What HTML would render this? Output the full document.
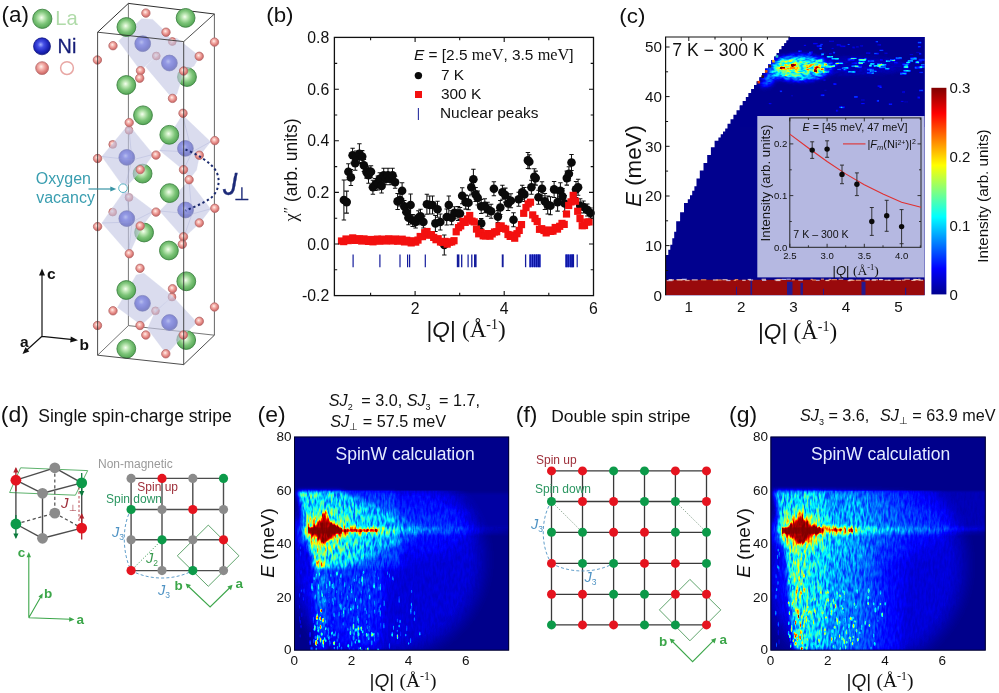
<!DOCTYPE html>
<html lang="en"><head><meta charset="utf-8"><title>Figure</title>
<style>
html,body{margin:0;padding:0;background:#fff;}
body{width:999px;height:693px;overflow:hidden;}
svg{display:block;}
.ss{font-family:"Liberation Sans",Arial,sans-serif;}
.sf{font-family:"Liberation Serif","Times New Roman",serif;}
</style></head><body>
<svg width="999" height="693" viewBox="0 0 999 693">
<rect width="999" height="693" fill="#fff"/>
<g id="pa">
<defs>
<radialGradient id="gLa" cx="0.47" cy="0.46" r="0.58" fx="0.46" fy="0.44"><stop offset="0" stop-color="#f6fff0"/><stop offset="0.25" stop-color="#bfe8b6"/><stop offset="0.58" stop-color="#7cc478"/><stop offset="0.88" stop-color="#5aaa5a"/><stop offset="1" stop-color="#4a9a4c"/></radialGradient>
<radialGradient id="gNi" cx="0.45" cy="0.42" r="0.6" fx="0.42" fy="0.4"><stop offset="0" stop-color="#a3b0ff"/><stop offset="0.3" stop-color="#4650e6"/><stop offset="0.7" stop-color="#1e26bc"/><stop offset="1" stop-color="#0f1588"/></radialGradient>
<radialGradient id="gO" cx="0.45" cy="0.42" r="0.6" fx="0.42" fy="0.38"><stop offset="0" stop-color="#fff2ec"/><stop offset="0.35" stop-color="#f5b4ae"/><stop offset="0.72" stop-color="#df807c"/><stop offset="1" stop-color="#c46060"/></radialGradient>
</defs>
<text class="ss" transform="translate(1.6,22) scale(1.02,1)" font-size="22" fill="#111">(a)</text>
<circle cx="42.3" cy="18.8" r="9.6" fill="url(#gLa)" stroke="#3f8544" stroke-width="0.9"/><text class="ss" x="55.2" y="24.9" font-size="20.2" fill="#b0dba9">La</text>

<circle cx="42" cy="46.3" r="8.5" fill="url(#gNi)" stroke="#10167e" stroke-width="0.7"/><text class="ss" x="57.6" y="52.5" font-size="19.8" fill="#161e78" stroke="#161e78" stroke-width="0.3">Ni</text>

<circle cx="42.1" cy="68.1" r="6.4" fill="url(#gO)" stroke="#b46a6a" stroke-width="0.8"/><circle cx="67" cy="68.1" r="6.4" fill="#fff" stroke="#e8a7a4" stroke-width="1.5"/>
<path d="M128.4 3.4 L128.4 325.6" fill="none" stroke="#666" stroke-width="0.9"/>
<path d="M97.6 355.2 L128.4 325.6 L214.4 335.2" fill="none" stroke="#666" stroke-width="0.9"/>
<path d="M214.4 14.0 L214.4 335.2" fill="none" stroke="#555" stroke-width="0.9"/>
<path d="M97.6 32.2 L128.4 3.4 L214.4 14.0" fill="none" stroke="#2e2e2e" stroke-width="1"/>
<circle cx="187" cy="77" r="9.4" fill="url(#gLa)" stroke="#3f8544" stroke-width="0.9"/><circle cx="142.6" cy="173.6" r="9.4" fill="url(#gLa)" stroke="#3f8544" stroke-width="0.9"/><circle cx="144.1" cy="232.5" r="9.4" fill="url(#gLa)" stroke="#3f8544" stroke-width="0.9"/><circle cx="186.2" cy="340" r="9.4" fill="url(#gLa)" stroke="#3f8544" stroke-width="0.9"/>
<circle cx="142.7" cy="43.7" r="7.8999999999999995" fill="url(#gNi)" stroke="#10167e" stroke-width="0.7"/><circle cx="169.4" cy="63" r="7.8999999999999995" fill="url(#gNi)" stroke="#10167e" stroke-width="0.7"/><circle cx="126.8" cy="157.4" r="7.8999999999999995" fill="url(#gNi)" stroke="#10167e" stroke-width="0.7"/><circle cx="185.4" cy="148.4" r="7.8999999999999995" fill="url(#gNi)" stroke="#10167e" stroke-width="0.7"/><circle cx="126.8" cy="218.6" r="7.8999999999999995" fill="url(#gNi)" stroke="#10167e" stroke-width="0.7"/><circle cx="185.6" cy="210" r="7.8999999999999995" fill="url(#gNi)" stroke="#10167e" stroke-width="0.7"/><circle cx="142.5" cy="303.3" r="7.8999999999999995" fill="url(#gNi)" stroke="#10167e" stroke-width="0.7"/><circle cx="169.5" cy="322.5" r="7.8999999999999995" fill="url(#gNi)" stroke="#10167e" stroke-width="0.7"/>
<circle cx="172.3" cy="41.5" r="3.9000000000000004" fill="url(#gO)" stroke="#b46a6a" stroke-width="0.8"/><circle cx="156.3" cy="56" r="3.9000000000000004" fill="url(#gO)" stroke="#b46a6a" stroke-width="0.8"/><circle cx="129" cy="130.3" r="3.9000000000000004" fill="url(#gO)" stroke="#b46a6a" stroke-width="0.8"/><circle cx="112.7" cy="144.4" r="3.9000000000000004" fill="url(#gO)" stroke="#b46a6a" stroke-width="0.8"/><circle cx="129" cy="197.4" r="3.9000000000000004" fill="url(#gO)" stroke="#b46a6a" stroke-width="0.8"/><circle cx="112.7" cy="212.1" r="3.9000000000000004" fill="url(#gO)" stroke="#b46a6a" stroke-width="0.8"/><circle cx="172" cy="297" r="3.9000000000000004" fill="url(#gO)" stroke="#b46a6a" stroke-width="0.8"/><circle cx="155.5" cy="310.8" r="3.9000000000000004" fill="url(#gO)" stroke="#b46a6a" stroke-width="0.8"/>
<path d="M118.6 41 L141.6 18.7 L152.7 19.4 L166.2 32.5 L172.5 42 L156.3 56.3 L140.5 70.6Z" fill="#c3c6e4" fill-opacity="0.62" stroke="#d4d6ec" stroke-width="0.5" stroke-opacity="0.6"/>
<path d="M156.3 56.3 L172.5 42 L176.5 38 L199.5 56.3 L194 65.9 L183.7 71.4 L177 93.7 L172.5 98.4 L145.6 66.7Z" fill="#c3c6e4" fill-opacity="0.62" stroke="#d4d6ec" stroke-width="0.5" stroke-opacity="0.6"/>
<path d="M101.9 156.5 L128.5 124.5 L153.2 154.4 L142 170 L124.6 188.3Z" fill="#c3c6e4" fill-opacity="0.62" stroke="#d4d6ec" stroke-width="0.5" stroke-opacity="0.6"/>
<path d="M101.9 223 L124.6 190.5 L131.1 194 L153.9 211 L142 226.2 L131 250 L128.5 253.5Z" fill="#c3c6e4" fill-opacity="0.62" stroke="#d4d6ec" stroke-width="0.5" stroke-opacity="0.6"/>
<path d="M159.7 150.5 L182.5 115 L210.6 141.8 L199.4 155.9 L196.5 170 L189 179.7 L183.5 170Z" fill="#c3c6e4" fill-opacity="0.62" stroke="#d4d6ec" stroke-width="0.5" stroke-opacity="0.6"/>
<path d="M159.7 211 L189 180.8 L210.6 208.9 L199.8 223 L183.5 238.1Z" fill="#c3c6e4" fill-opacity="0.62" stroke="#d4d6ec" stroke-width="0.5" stroke-opacity="0.6"/>
<path d="M117.5 307.5 L136.3 275 L143.8 273.2 L172.5 296.3 L156.3 311.3 L141.3 325Z" fill="#c3c6e4" fill-opacity="0.62" stroke="#d4d6ec" stroke-width="0.5" stroke-opacity="0.6"/>
<path d="M155.5 310.8 L172.5 296.3 L197 322.5 L183.8 335 L170 350.5 L163.8 350.5 L147.5 328.8Z" fill="#c3c6e4" fill-opacity="0.62" stroke="#d4d6ec" stroke-width="0.5" stroke-opacity="0.6"/>
<path d="M128.5 124.5 L132 160 L124.6 188.3 M101.9 156.5 L132 160 L153.2 154.4 M124.6 190.5 L132 222 L128.5 253.5 M101.9 223 L132 222 L153.9 211 M182.5 115 L192 152 L183.5 170 M159.7 150.5 L192 152 L210.6 141.8 M189 180.8 L192 214 L183.5 238.1 M159.7 211 L192 214 L210.6 208.9" fill="none" stroke="#9aa0d0" stroke-width="0.6" opacity="0.5"/>
<circle cx="126.4" cy="27" r="9.4" fill="url(#gLa)" stroke="#3f8544" stroke-width="0.9"/><circle cx="185.6" cy="17.9" r="9.4" fill="url(#gLa)" stroke="#3f8544" stroke-width="0.9"/><circle cx="126.3" cy="85" r="9.4" fill="url(#gLa)" stroke="#3f8544" stroke-width="0.9"/><circle cx="143" cy="115.3" r="9.4" fill="url(#gLa)" stroke="#3f8544" stroke-width="0.9"/><circle cx="169.3" cy="134.8" r="9.4" fill="url(#gLa)" stroke="#3f8544" stroke-width="0.9"/><circle cx="169.6" cy="193.1" r="9.4" fill="url(#gLa)" stroke="#3f8544" stroke-width="0.9"/><circle cx="168.9" cy="250.5" r="9.4" fill="url(#gLa)" stroke="#3f8544" stroke-width="0.9"/><circle cx="186.3" cy="281.3" r="9.4" fill="url(#gLa)" stroke="#3f8544" stroke-width="0.9"/><circle cx="126.3" cy="290" r="9.4" fill="url(#gLa)" stroke="#3f8544" stroke-width="0.9"/><circle cx="126.3" cy="348.8" r="9.4" fill="url(#gLa)" stroke="#3f8544" stroke-width="0.9"/>
<circle cx="145.9" cy="13.1" r="4.2" fill="url(#gO)" stroke="#b46a6a" stroke-width="0.8"/><circle cx="166" cy="32.2" r="4.2" fill="url(#gO)" stroke="#b46a6a" stroke-width="0.8"/><circle cx="113" cy="45.7" r="4.2" fill="url(#gO)" stroke="#b46a6a" stroke-width="0.8"/><circle cx="97.4" cy="60" r="4.2" fill="url(#gO)" stroke="#b46a6a" stroke-width="0.8"/><circle cx="214.5" cy="42.1" r="4.2" fill="url(#gO)" stroke="#b46a6a" stroke-width="0.8"/><circle cx="199.2" cy="56.3" r="4.2" fill="url(#gO)" stroke="#b46a6a" stroke-width="0.8"/><circle cx="183.6" cy="71" r="4.2" fill="url(#gO)" stroke="#b46a6a" stroke-width="0.8"/><circle cx="140.5" cy="70.7" r="4.2" fill="url(#gO)" stroke="#b46a6a" stroke-width="0.8"/><circle cx="139.7" cy="78.2" r="4.2" fill="url(#gO)" stroke="#b46a6a" stroke-width="0.8"/><circle cx="172.5" cy="98.4" r="4.2" fill="url(#gO)" stroke="#b46a6a" stroke-width="0.8"/><circle cx="183" cy="113.3" r="4.2" fill="url(#gO)" stroke="#b46a6a" stroke-width="0.8"/><circle cx="129.2" cy="122.6" r="4.2" fill="url(#gO)" stroke="#b46a6a" stroke-width="0.8"/><circle cx="214.8" cy="140.6" r="4.2" fill="url(#gO)" stroke="#b46a6a" stroke-width="0.8"/><circle cx="97.6" cy="158.5" r="4.2" fill="url(#gO)" stroke="#b46a6a" stroke-width="0.8"/><circle cx="156" cy="155.1" r="4.2" fill="url(#gO)" stroke="#b46a6a" stroke-width="0.8"/><circle cx="199.3" cy="155.2" r="4.2" fill="url(#gO)" stroke="#b46a6a" stroke-width="0.8"/><circle cx="140.2" cy="169.6" r="4.2" fill="url(#gO)" stroke="#b46a6a" stroke-width="0.8"/><circle cx="183.5" cy="169.7" r="4.2" fill="url(#gO)" stroke="#b46a6a" stroke-width="0.8"/><circle cx="189.1" cy="179.7" r="4.2" fill="url(#gO)" stroke="#b46a6a" stroke-width="0.8"/><circle cx="214.8" cy="208.3" r="4.2" fill="url(#gO)" stroke="#b46a6a" stroke-width="0.8"/><circle cx="156" cy="212.1" r="4.2" fill="url(#gO)" stroke="#b46a6a" stroke-width="0.8"/><circle cx="97.6" cy="226.6" r="4.2" fill="url(#gO)" stroke="#b46a6a" stroke-width="0.8"/><circle cx="140.2" cy="226" r="4.2" fill="url(#gO)" stroke="#b46a6a" stroke-width="0.8"/><circle cx="199.3" cy="222.9" r="4.2" fill="url(#gO)" stroke="#b46a6a" stroke-width="0.8"/><circle cx="183.5" cy="236.8" r="4.2" fill="url(#gO)" stroke="#b46a6a" stroke-width="0.8"/><circle cx="182.3" cy="244.3" r="4.2" fill="url(#gO)" stroke="#b46a6a" stroke-width="0.8"/><circle cx="129.3" cy="253.7" r="4.2" fill="url(#gO)" stroke="#b46a6a" stroke-width="0.8"/><circle cx="140" cy="268.3" r="4.2" fill="url(#gO)" stroke="#b46a6a" stroke-width="0.8"/><circle cx="172.5" cy="288.8" r="4.2" fill="url(#gO)" stroke="#b46a6a" stroke-width="0.8"/><circle cx="214.5" cy="307" r="4.2" fill="url(#gO)" stroke="#b46a6a" stroke-width="0.8"/><circle cx="113" cy="310.8" r="4.2" fill="url(#gO)" stroke="#b46a6a" stroke-width="0.8"/><circle cx="199.3" cy="321.3" r="4.2" fill="url(#gO)" stroke="#b46a6a" stroke-width="0.8"/><circle cx="97.5" cy="325.5" r="4.2" fill="url(#gO)" stroke="#b46a6a" stroke-width="0.8"/><circle cx="140" cy="325.5" r="4.2" fill="url(#gO)" stroke="#b46a6a" stroke-width="0.8"/><circle cx="145.8" cy="335" r="4.2" fill="url(#gO)" stroke="#b46a6a" stroke-width="0.8"/><circle cx="183.3" cy="335" r="4.2" fill="url(#gO)" stroke="#b46a6a" stroke-width="0.8"/><circle cx="165.8" cy="353.8" r="4.2" fill="url(#gO)" stroke="#b46a6a" stroke-width="0.8"/>
<circle cx="123" cy="188.2" r="4.3" fill="#fff" stroke="#5ab4c4" stroke-width="1"/>
<path d="M97.6 32.2 L183.7 41.6 L214.4 14.0" fill="none" stroke="#2e2e2e" stroke-width="0.85"/>
<path d="M97.6 32.2 L97.6 355.2 L183.7 364.6 L183.7 41.6" fill="none" stroke="#2e2e2e" stroke-width="0.85"/>
<path d="M183.7 364.6 L214.4 335.2" fill="none" stroke="#2e2e2e" stroke-width="0.85"/>
<path d="M185.5 149.5 C 197 154, 212 163, 216.5 172 C 221 181, 218 192, 211 198 C 204 203, 194 207, 185.6 210.6" fill="none" stroke="#1b2a6e" stroke-width="2" stroke-dasharray="2.3 2.7"/>
<text class="ss" transform="translate(223,195) scale(0.9,1)" font-size="31.5" fill="#1c2a78" font-style="italic" stroke="#1c2a78" stroke-width="0.4">J</text><path d="M229 171 H235.2 L234.3 176 H229Z" fill="#fff"/><text class="ss" x="234.2" y="200" font-size="17.5" fill="#1c2a78" stroke="#1c2a78" stroke-width="0.3">⊥</text>
<text class="ss" x="35.8" y="183.9" font-size="16" fill="#3a9eb0">Oxygen</text>
<text class="ss" x="36.2" y="202.5" font-size="16" fill="#3a9eb0">vacancy</text>
<path d="M88.5 189 H112" stroke="#3a95a6" stroke-width="1.2" fill="none"/><path d="M116.3 189 l-6 -2.6 v5.2z" fill="#3a95a6"/>
<path d="M42 336.3 V274 M42 336.3 L73 339.6 M42 336.3 L26 350.8" stroke="#111" stroke-width="1.2" fill="none"/>
<path d="M42 268.5 l-3 7 h6z M78 340.2 l-7.2 -3.8 l-0.6 6z M22.5 354 l3 -6.8 l3.8 4.4z" fill="#111"/>
<text class="ss" x="47" y="278.5" font-size="15.5" fill="#111" font-weight="bold">c</text>
<text class="ss" x="79.5" y="349.5" font-size="15.5" fill="#111" font-weight="bold">b</text>
<text class="ss" x="20" y="347" font-size="15.5" fill="#111" font-weight="bold">a</text>
</g>
<g id="pb">
<text class="ss" transform="translate(266.2,22.2) scale(1.13,1)" font-size="19.8" fill="#111">(b)</text>
<line x1="353.1" y1="254.4" x2="353.1" y2="267.2" stroke="#141c9c" stroke-width="1.2"/>
<line x1="379.9" y1="254.4" x2="379.9" y2="267.2" stroke="#141c9c" stroke-width="1.2"/>
<line x1="400.0" y1="254.4" x2="400.0" y2="267.2" stroke="#141c9c" stroke-width="1.2"/>
<line x1="407.6" y1="254.4" x2="407.6" y2="267.2" stroke="#141c9c" stroke-width="1.2"/>
<line x1="409.6" y1="254.4" x2="409.6" y2="267.2" stroke="#141c9c" stroke-width="1.2"/>
<line x1="425.3" y1="254.4" x2="425.3" y2="267.2" stroke="#141c9c" stroke-width="1.2"/>
<line x1="458.1" y1="254.4" x2="458.1" y2="267.2" stroke="#141c9c" stroke-width="2.6"/>
<line x1="461.7" y1="254.4" x2="461.7" y2="267.2" stroke="#141c9c" stroke-width="1.3"/>
<line x1="468.1" y1="254.4" x2="468.1" y2="267.2" stroke="#141c9c" stroke-width="1.2"/>
<line x1="471.8" y1="254.4" x2="471.8" y2="267.2" stroke="#141c9c" stroke-width="1.3"/>
<line x1="475.3" y1="254.4" x2="475.3" y2="267.2" stroke="#141c9c" stroke-width="2.6"/>
<line x1="502.7" y1="254.4" x2="502.7" y2="267.2" stroke="#141c9c" stroke-width="1.9"/>
<line x1="525.6" y1="254.4" x2="525.6" y2="267.2" stroke="#141c9c" stroke-width="1.3"/>
<rect x="529.3" y="254.4" width="11.3" height="12.8" fill="#4a55e0"/>
<line x1="530.2" y1="254.4" x2="530.2" y2="267.2" stroke="#0c14a0" stroke-width="1.3"/>
<line x1="532.5" y1="254.4" x2="532.5" y2="267.2" stroke="#0c14a0" stroke-width="1.3"/>
<line x1="534.6" y1="254.4" x2="534.6" y2="267.2" stroke="#0c14a0" stroke-width="1.3"/>
<line x1="536.6" y1="254.4" x2="536.6" y2="267.2" stroke="#0c14a0" stroke-width="1.3"/>
<line x1="538.4" y1="254.4" x2="538.4" y2="267.2" stroke="#0c14a0" stroke-width="1.3"/>
<line x1="539.8" y1="254.4" x2="539.8" y2="267.2" stroke="#0c14a0" stroke-width="1.3"/>
<rect x="565.4" y="254.4" width="8.6" height="12.8" fill="#3a45d8"/>
<line x1="566.2" y1="254.4" x2="566.2" y2="267.2" stroke="#0c14a0" stroke-width="1.4"/>
<line x1="568.2" y1="254.4" x2="568.2" y2="267.2" stroke="#0c14a0" stroke-width="1.4"/>
<line x1="570.8" y1="254.4" x2="570.8" y2="267.2" stroke="#0c14a0" stroke-width="1.4"/>
<line x1="572.2" y1="254.4" x2="572.2" y2="267.2" stroke="#0c14a0" stroke-width="1.4"/>
<line x1="573.4" y1="254.4" x2="573.4" y2="267.2" stroke="#0c14a0" stroke-width="1.4"/>
<line x1="577.2" y1="254.4" x2="577.2" y2="267.2" stroke="#1a22a8" stroke-width="1.2"/>
<path d="M343.9 180.0V220.0M341.7 180.0h4.4M341.7 220.0h4.4M346.7 191.1V213.1M344.5 191.1h4.4M344.5 213.1h4.4M348.4 163.7V179.7M346.2 163.7h4.4M346.2 179.7h4.4M350.9 169.4V185.4M348.7 169.4h4.4M348.7 185.4h4.4M352.6 148.2V162.2M350.4 148.2h4.4M350.4 162.2h4.4M355.2 156.2V170.2M353.0 156.2h4.4M353.0 170.2h4.4M356.2 150.9V162.9M354.0 150.9h4.4M354.0 162.9h4.4M359.4 143.8V163.8M357.2 143.8h4.4M357.2 163.8h4.4M362.2 150.6V162.6M360.0 150.6h4.4M360.0 162.6h4.4M363.9 159.4V171.4M361.7 159.4h4.4M361.7 171.4h4.4M366.5 166.1V178.1M364.3 166.1h4.4M364.3 178.1h4.4M368.5 167.3V183.3M366.3 167.3h4.4M366.3 183.3h4.4M371.0 165.7V177.7M368.8 165.7h4.4M368.8 177.7h4.4M372.9 180.3V194.3M370.7 180.3h4.4M370.7 194.3h4.4M375.3 178.5V190.5M373.1 178.5h4.4M373.1 190.5h4.4M377.8 176.0V190.0M375.6 176.0h4.4M375.6 190.0h4.4M379.8 172.8V184.8M377.6 172.8h4.4M377.6 184.8h4.4M381.6 178.9V192.9M379.4 178.9h4.4M379.4 192.9h4.4M383.7 168.3V182.3M381.5 168.3h4.4M381.5 182.3h4.4M385.9 172.8V184.8M383.7 172.8h4.4M383.7 184.8h4.4M388.0 168.3V182.3M385.8 168.3h4.4M385.8 182.3h4.4M390.1 172.8V184.8M387.9 172.8h4.4M387.9 184.8h4.4M392.5 168.3V182.3M390.3 168.3h4.4M390.3 182.3h4.4M395.1 176.3V188.3M392.9 176.3h4.4M392.9 188.3h4.4M397.6 193.4V209.4M395.4 193.4h4.4M395.4 209.4h4.4M400.0 194.0V206.0M397.8 194.0h4.4M397.8 206.0h4.4M402.1 182.8V198.8M399.9 182.8h4.4M399.9 198.8h4.4M404.3 200.4V212.4M402.1 200.4h4.4M402.1 212.4h4.4M406.4 206.0V218.0M404.2 206.0h4.4M404.2 218.0h4.4M408.5 210.7V224.7M406.3 210.7h4.4M406.3 224.7h4.4M410.6 194.0V216.0M408.4 194.0h4.4M408.4 216.0h4.4M412.7 214.5V226.5M410.5 214.5h4.4M410.5 226.5h4.4M415.6 216.0V228.0M413.4 216.0h4.4M413.4 228.0h4.4M418.4 210.7V224.7M416.2 210.7h4.4M416.2 224.7h4.4M420.5 209.3V223.3M418.3 209.3h4.4M418.3 223.3h4.4M423.4 216.0V228.0M421.2 216.0h4.4M421.2 228.0h4.4M426.9 194.3V214.3M424.7 194.3h4.4M424.7 214.3h4.4M429.7 196.0V214.0M427.5 196.0h4.4M427.5 214.0h4.4M432.5 196.0V214.0M430.3 196.0h4.4M430.3 214.0h4.4M435.4 215.4V231.4M433.2 215.4h4.4M433.2 231.4h4.4M437.5 201.2V217.2M435.3 201.2h4.4M435.3 217.2h4.4M440.3 214.0V230.0M438.1 214.0h4.4M438.1 230.0h4.4M444.3 235.0V255.0M442.1 235.0h4.4M442.1 255.0h4.4M446.7 209.0V225.0M444.5 209.0h4.4M444.5 225.0h4.4M448.8 196.0V214.0M446.6 196.0h4.4M446.6 214.0h4.4M451.6 210.7V224.7M449.4 210.7h4.4M449.4 224.7h4.4M454.5 206.7V218.7M452.3 206.7h4.4M452.3 218.7h4.4M458.0 206.5V220.5M455.8 206.5h4.4M455.8 220.5h4.4M460.0 207.5V219.5M457.8 207.5h4.4M457.8 219.5h4.4M462.2 187.8V203.8M460.0 187.8h4.4M460.0 203.8h4.4M465.7 195.1V209.1M463.5 195.1h4.4M463.5 209.1h4.4M468.5 195.8V209.8M466.3 195.8h4.4M466.3 209.8h4.4M471.3 180.3V194.3M469.1 180.3h4.4M469.1 194.3h4.4M473.4 169.2V189.2M471.2 169.2h4.4M471.2 189.2h4.4M475.6 187.4V201.4M473.4 187.4h4.4M473.4 201.4h4.4M477.7 190.9V204.9M475.5 190.9h4.4M475.5 204.9h4.4M481.2 199.4V213.4M479.0 199.4h4.4M479.0 213.4h4.4M484.8 198.7V212.7M482.6 198.7h4.4M482.6 212.7h4.4M487.6 202.2V216.2M485.4 202.2h4.4M485.4 216.2h4.4M491.1 204.3V218.3M488.9 204.3h4.4M488.9 218.3h4.4M493.9 181.7V195.7M491.7 181.7h4.4M491.7 195.7h4.4M497.9 210.6V222.6M495.7 210.6h4.4M495.7 222.6h4.4M500.3 200.5V214.5M498.1 200.5h4.4M498.1 214.5h4.4M502.4 185.2V199.2M500.2 185.2h4.4M500.2 199.2h4.4M505.3 188.1V202.1M503.1 188.1h4.4M503.1 202.1h4.4M508.1 196.5V210.5M505.9 196.5h4.4M505.9 210.5h4.4M510.9 193.7V207.7M508.7 193.7h4.4M508.7 207.7h4.4M513.5 212.8V226.8M511.3 212.8h4.4M511.3 226.8h4.4M518.7 192.3V206.3M516.5 192.3h4.4M516.5 206.3h4.4M522.2 185.2V199.2M520.0 185.2h4.4M520.0 199.2h4.4M524.4 187.4V201.4M522.2 187.4h4.4M522.2 201.4h4.4M527.9 152.4V168.4M525.7 152.4h4.4M525.7 168.4h4.4M529.3 154.8V168.8M527.1 154.8h4.4M527.1 168.8h4.4M531.4 180.3V194.3M529.2 180.3h4.4M529.2 194.3h4.4M534.3 168.7V184.7M532.1 168.7h4.4M532.1 184.7h4.4M535.7 171.1V185.1M533.5 171.1h4.4M533.5 185.1h4.4M538.5 190.2V204.2M536.3 190.2h4.4M536.3 204.2h4.4M542.0 181.7V195.7M539.8 181.7h4.4M539.8 195.7h4.4M544.9 193.4V209.4M542.7 193.4h4.4M542.7 209.4h4.4M547.7 196.0V214.0M545.5 196.0h4.4M545.5 214.0h4.4M550.5 196.7V214.7M548.3 196.7h4.4M548.3 214.7h4.4M554.1 181.4V197.4M551.9 181.4h4.4M551.9 197.4h4.4M557.6 193.1V211.1M555.4 193.1h4.4M555.4 211.1h4.4M560.4 182.8V198.8M558.2 182.8h4.4M558.2 198.8h4.4M562.5 188.5V204.5M560.3 188.5h4.4M560.3 204.5h4.4M564.7 195.5V211.5M562.5 195.5h4.4M562.5 211.5h4.4M566.8 171.1V185.1M564.6 171.1h4.4M564.6 185.1h4.4M568.9 166.8V180.8M566.7 166.8h4.4M566.7 180.8h4.4M571.5 154.5V170.5M569.3 154.5h4.4M569.3 170.5h4.4M576.0 181.4V197.4M573.8 181.4h4.4M573.8 197.4h4.4M578.1 179.3V195.3M575.9 179.3h4.4M575.9 195.3h4.4M580.2 198.7V212.7M578.0 198.7h4.4M578.0 212.7h4.4M583.5 201.0V213.0M581.3 201.0h4.4M581.3 213.0h4.4M587.3 203.9V215.9M585.1 203.9h4.4M585.1 215.9h4.4M590.5 208.0V218.0M588.3 208.0h4.4M588.3 218.0h4.4M481.2 218.4V228.4M479.0 218.4h4.4M479.0 228.4h4.4" stroke="#111" stroke-width="1.05" fill="none"/>
<g fill="#0a0a0a"><circle cx="343.9" cy="200.0" r="4.3"/><circle cx="346.7" cy="202.1" r="4.3"/><circle cx="348.4" cy="171.7" r="4.3"/><circle cx="350.9" cy="177.4" r="4.3"/><circle cx="352.6" cy="155.2" r="4.3"/><circle cx="355.2" cy="163.2" r="4.3"/><circle cx="356.2" cy="156.9" r="4.3"/><circle cx="359.4" cy="153.8" r="4.3"/><circle cx="362.2" cy="156.6" r="4.3"/><circle cx="363.9" cy="165.4" r="4.3"/><circle cx="366.5" cy="172.1" r="4.3"/><circle cx="368.5" cy="175.3" r="4.3"/><circle cx="371.0" cy="171.7" r="4.3"/><circle cx="372.9" cy="187.3" r="4.3"/><circle cx="375.3" cy="184.5" r="4.3"/><circle cx="377.8" cy="183.0" r="4.3"/><circle cx="379.8" cy="178.8" r="4.3"/><circle cx="381.6" cy="185.9" r="4.3"/><circle cx="383.7" cy="175.3" r="4.3"/><circle cx="385.9" cy="178.8" r="4.3"/><circle cx="388.0" cy="175.3" r="4.3"/><circle cx="390.1" cy="178.8" r="4.3"/><circle cx="392.5" cy="175.3" r="4.3"/><circle cx="395.1" cy="182.3" r="4.3"/><circle cx="397.6" cy="201.4" r="4.3"/><circle cx="400.0" cy="200.0" r="4.3"/><circle cx="402.1" cy="190.8" r="4.3"/><circle cx="404.3" cy="206.4" r="4.3"/><circle cx="406.4" cy="212.0" r="4.3"/><circle cx="408.5" cy="217.7" r="4.3"/><circle cx="410.6" cy="205.0" r="4.3"/><circle cx="412.7" cy="220.5" r="4.3"/><circle cx="415.6" cy="222.0" r="4.3"/><circle cx="418.4" cy="217.7" r="4.3"/><circle cx="420.5" cy="216.3" r="4.3"/><circle cx="423.4" cy="222.0" r="4.3"/><circle cx="426.9" cy="204.3" r="4.3"/><circle cx="429.7" cy="205.0" r="4.3"/><circle cx="432.5" cy="205.0" r="4.3"/><circle cx="435.4" cy="223.4" r="4.3"/><circle cx="437.5" cy="209.2" r="4.3"/><circle cx="440.3" cy="222.0" r="4.3"/><circle cx="444.3" cy="245.0" r="4.3"/><circle cx="446.7" cy="217.0" r="4.3"/><circle cx="448.8" cy="205.0" r="4.3"/><circle cx="451.6" cy="217.7" r="4.3"/><circle cx="454.5" cy="212.7" r="4.3"/><circle cx="458.0" cy="213.5" r="4.3"/><circle cx="460.0" cy="213.5" r="4.3"/><circle cx="462.2" cy="195.8" r="4.3"/><circle cx="465.7" cy="202.1" r="4.3"/><circle cx="468.5" cy="202.8" r="4.3"/><circle cx="471.3" cy="187.3" r="4.3"/><circle cx="473.4" cy="179.2" r="4.3"/><circle cx="475.6" cy="194.4" r="4.3"/><circle cx="477.7" cy="197.9" r="4.3"/><circle cx="481.2" cy="206.4" r="4.3"/><circle cx="484.8" cy="205.7" r="4.3"/><circle cx="487.6" cy="209.2" r="4.3"/><circle cx="491.1" cy="211.3" r="4.3"/><circle cx="493.9" cy="188.7" r="4.3"/><circle cx="497.9" cy="216.6" r="4.3"/><circle cx="500.3" cy="207.5" r="4.3"/><circle cx="502.4" cy="192.2" r="4.3"/><circle cx="505.3" cy="195.1" r="4.3"/><circle cx="508.1" cy="203.5" r="4.3"/><circle cx="510.9" cy="200.7" r="4.3"/><circle cx="513.5" cy="219.8" r="4.3"/><circle cx="518.7" cy="199.3" r="4.3"/><circle cx="522.2" cy="192.2" r="4.3"/><circle cx="524.4" cy="194.4" r="4.3"/><circle cx="527.9" cy="160.4" r="4.3"/><circle cx="529.3" cy="161.8" r="4.3"/><circle cx="531.4" cy="187.3" r="4.3"/><circle cx="534.3" cy="176.7" r="4.3"/><circle cx="535.7" cy="178.1" r="4.3"/><circle cx="538.5" cy="197.2" r="4.3"/><circle cx="542.0" cy="188.7" r="4.3"/><circle cx="544.9" cy="201.4" r="4.3"/><circle cx="547.7" cy="205.0" r="4.3"/><circle cx="550.5" cy="205.7" r="4.3"/><circle cx="554.1" cy="189.4" r="4.3"/><circle cx="557.6" cy="202.1" r="4.3"/><circle cx="560.4" cy="190.8" r="4.3"/><circle cx="562.5" cy="196.5" r="4.3"/><circle cx="564.7" cy="203.5" r="4.3"/><circle cx="566.8" cy="178.1" r="4.3"/><circle cx="568.9" cy="173.8" r="4.3"/><circle cx="571.5" cy="162.5" r="4.3"/><circle cx="576.0" cy="189.4" r="4.3"/><circle cx="578.1" cy="187.3" r="4.3"/><circle cx="580.2" cy="205.7" r="4.3"/><circle cx="583.5" cy="207.0" r="4.3"/><circle cx="587.3" cy="209.9" r="4.3"/><circle cx="590.5" cy="213.0" r="4.3"/><circle cx="481.2" cy="223.4" r="4.3"/></g>
<g fill="#f3100f"><rect x="337.9" y="237.4" width="7.2" height="7.2"/><rect x="340.1" y="238.0" width="7.2" height="7.2"/><rect x="342.4" y="235.4" width="7.2" height="7.2"/><rect x="344.6" y="237.0" width="7.2" height="7.2"/><rect x="346.9" y="236.0" width="7.2" height="7.2"/><rect x="349.1" y="234.3" width="7.2" height="7.2"/><rect x="351.4" y="236.8" width="7.2" height="7.2"/><rect x="353.6" y="235.2" width="7.2" height="7.2"/><rect x="355.9" y="235.3" width="7.2" height="7.2"/><rect x="358.1" y="237.4" width="7.2" height="7.2"/><rect x="360.4" y="235.3" width="7.2" height="7.2"/><rect x="362.6" y="236.9" width="7.2" height="7.2"/><rect x="364.9" y="237.8" width="7.2" height="7.2"/><rect x="367.1" y="235.9" width="7.2" height="7.2"/><rect x="369.4" y="238.2" width="7.2" height="7.2"/><rect x="371.6" y="236.9" width="7.2" height="7.2"/><rect x="373.9" y="235.5" width="7.2" height="7.2"/><rect x="376.1" y="237.6" width="7.2" height="7.2"/><rect x="378.4" y="235.6" width="7.2" height="7.2"/><rect x="380.6" y="235.9" width="7.2" height="7.2"/><rect x="382.9" y="237.4" width="7.2" height="7.2"/><rect x="385.1" y="235.2" width="7.2" height="7.2"/><rect x="387.4" y="236.9" width="7.2" height="7.2"/><rect x="389.6" y="237.3" width="7.2" height="7.2"/><rect x="391.9" y="235.4" width="7.2" height="7.2"/><rect x="394.1" y="237.6" width="7.2" height="7.2"/><rect x="396.4" y="236.3" width="7.2" height="7.2"/><rect x="398.6" y="235.6" width="7.2" height="7.2"/><rect x="400.9" y="238.3" width="7.2" height="7.2"/><rect x="403.1" y="236.7" width="7.2" height="7.2"/><rect x="405.4" y="237.9" width="7.2" height="7.2"/><rect x="407.6" y="239.3" width="7.2" height="7.2"/><rect x="409.9" y="237.2" width="7.2" height="7.2"/><rect x="412.1" y="238.5" width="7.2" height="7.2"/><rect x="414.4" y="236.5" width="7.2" height="7.2"/><rect x="416.6" y="232.9" width="7.2" height="7.2"/><rect x="418.9" y="233.0" width="7.2" height="7.2"/><rect x="421.1" y="229.1" width="7.2" height="7.2"/><rect x="423.4" y="227.9" width="7.2" height="7.2"/><rect x="425.6" y="231.6" width="7.2" height="7.2"/><rect x="427.9" y="231.0" width="7.2" height="7.2"/><rect x="430.1" y="233.8" width="7.2" height="7.2"/><rect x="432.4" y="236.1" width="7.2" height="7.2"/><rect x="434.6" y="235.1" width="7.2" height="7.2"/><rect x="436.9" y="238.4" width="7.2" height="7.2"/><rect x="439.1" y="238.7" width="7.2" height="7.2"/><rect x="441.4" y="237.8" width="7.2" height="7.2"/><rect x="443.6" y="240.5" width="7.2" height="7.2"/><rect x="445.9" y="238.6" width="7.2" height="7.2"/><rect x="448.1" y="238.3" width="7.2" height="7.2"/><rect x="450.4" y="237.1" width="7.2" height="7.2"/><rect x="452.6" y="228.2" width="7.2" height="7.2"/><rect x="454.9" y="224.0" width="7.2" height="7.2"/><rect x="457.1" y="222.3" width="7.2" height="7.2"/><rect x="459.4" y="217.7" width="7.2" height="7.2"/><rect x="461.6" y="218.8" width="7.2" height="7.2"/><rect x="463.9" y="215.4" width="7.2" height="7.2"/><rect x="466.1" y="211.9" width="7.2" height="7.2"/><rect x="468.4" y="217.5" width="7.2" height="7.2"/><rect x="470.6" y="218.3" width="7.2" height="7.2"/><rect x="472.9" y="225.5" width="7.2" height="7.2"/><rect x="475.1" y="230.2" width="7.2" height="7.2"/><rect x="477.4" y="228.8" width="7.2" height="7.2"/><rect x="479.6" y="232.2" width="7.2" height="7.2"/><rect x="481.9" y="232.3" width="7.2" height="7.2"/><rect x="484.1" y="230.0" width="7.2" height="7.2"/><rect x="486.4" y="232.6" width="7.2" height="7.2"/><rect x="488.6" y="230.3" width="7.2" height="7.2"/><rect x="490.9" y="228.4" width="7.2" height="7.2"/><rect x="493.1" y="228.1" width="7.2" height="7.2"/><rect x="495.4" y="222.7" width="7.2" height="7.2"/><rect x="497.6" y="222.3" width="7.2" height="7.2"/><rect x="499.9" y="224.8" width="7.2" height="7.2"/><rect x="502.1" y="225.5" width="7.2" height="7.2"/><rect x="504.4" y="230.9" width="7.2" height="7.2"/><rect x="506.6" y="232.8" width="7.2" height="7.2"/><rect x="508.9" y="231.5" width="7.2" height="7.2"/><rect x="511.1" y="234.6" width="7.2" height="7.2"/><rect x="513.4" y="230.1" width="7.2" height="7.2"/><rect x="515.6" y="226.8" width="7.2" height="7.2"/><rect x="517.9" y="221.0" width="7.2" height="7.2"/><rect x="520.1" y="209.7" width="7.2" height="7.2"/><rect x="522.4" y="204.0" width="7.2" height="7.2"/><rect x="524.6" y="200.3" width="7.2" height="7.2"/><rect x="526.9" y="198.6" width="7.2" height="7.2"/><rect x="529.1" y="211.3" width="7.2" height="7.2"/><rect x="531.4" y="214.9" width="7.2" height="7.2"/><rect x="533.6" y="217.9" width="7.2" height="7.2"/><rect x="535.9" y="225.7" width="7.2" height="7.2"/><rect x="538.1" y="225.1" width="7.2" height="7.2"/><rect x="540.4" y="226.9" width="7.2" height="7.2"/><rect x="542.6" y="229.3" width="7.2" height="7.2"/><rect x="544.9" y="226.4" width="7.2" height="7.2"/><rect x="547.1" y="227.8" width="7.2" height="7.2"/><rect x="549.4" y="227.5" width="7.2" height="7.2"/><rect x="551.6" y="223.9" width="7.2" height="7.2"/><rect x="553.9" y="225.5" width="7.2" height="7.2"/><rect x="556.1" y="222.7" width="7.2" height="7.2"/><rect x="558.4" y="219.8" width="7.2" height="7.2"/><rect x="560.6" y="220.8" width="7.2" height="7.2"/><rect x="562.9" y="210.4" width="7.2" height="7.2"/><rect x="565.1" y="201.9" width="7.2" height="7.2"/><rect x="567.4" y="198.3" width="7.2" height="7.2"/><rect x="569.6" y="191.8" width="7.2" height="7.2"/><rect x="571.9" y="197.6" width="7.2" height="7.2"/><rect x="574.1" y="207.7" width="7.2" height="7.2"/><rect x="576.4" y="215.0" width="7.2" height="7.2"/><rect x="578.6" y="222.1" width="7.2" height="7.2"/><rect x="580.9" y="221.9" width="7.2" height="7.2"/><rect x="583.1" y="218.5" width="7.2" height="7.2"/><rect x="585.4" y="218.3" width="7.2" height="7.2"/></g>
<rect x="334.4" y="37.4" width="259.1" height="258.2" fill="none" stroke="#111" stroke-width="1.3"/>
<path d="M370.6 295.6v-2.8M370.6 37.4v2.8M415.1 295.6v-4.5M415.1 37.4v4.5M459.7 295.6v-2.8M459.7 37.4v2.8M504.2 295.6v-4.5M504.2 37.4v4.5M548.8 295.6v-2.8M548.8 37.4v2.8M334.4 269.8h2.8M593.5 269.8h-2.8M334.4 244.0h4.5M593.5 244.0h-4.5M334.4 218.2h2.8M593.5 218.2h-2.8M334.4 192.4h4.5M593.5 192.4h-4.5M334.4 166.6h2.8M593.5 166.6h-2.8M334.4 140.8h4.5M593.5 140.8h-4.5M334.4 115.0h2.8M593.5 115.0h-2.8M334.4 89.2h4.5M593.5 89.2h-4.5M334.4 63.4h2.8M593.5 63.4h-2.8" stroke="#111" stroke-width="1.1" fill="none"/>
<text class="ss" x="329.3" y="43.099999999999994" font-size="15.8" fill="#111" text-anchor="end">0.8</text>
<text class="ss" x="329.3" y="94.70000000000002" font-size="15.8" fill="#111" text-anchor="end">0.6</text>
<text class="ss" x="329.3" y="146.3" font-size="15.8" fill="#111" text-anchor="end">0.4</text>
<text class="ss" x="329.3" y="197.9" font-size="15.8" fill="#111" text-anchor="end">0.2</text>
<text class="ss" x="329.3" y="249.5" font-size="15.8" fill="#111" text-anchor="end">0.0</text>
<text class="ss" x="329.3" y="301.1" font-size="15.8" fill="#111" text-anchor="end">-0.2</text>
<text class="ss" x="415.1" y="314.4" font-size="15.8" fill="#111" text-anchor="middle">2</text>
<text class="ss" x="504.20000000000005" y="314.4" font-size="15.8" fill="#111" text-anchor="middle">4</text>
<text class="ss" x="593.3" y="314.4" font-size="15.8" fill="#111" text-anchor="middle">6</text>
<text x="426.5" y="337" font-size="22.5" fill="#111"><tspan class="ss">|<tspan font-style="italic">Q</tspan>| </tspan><tspan class="sf" font-size="23">(Å</tspan><tspan class="sf" font-size="14" dy="-8.5">-1</tspan><tspan class="sf" font-size="23" dy="8.5">)</tspan></text>
<text transform="translate(296.6,170) rotate(-90)" text-anchor="middle" font-size="17.5" fill="#111"><tspan class="sf" font-size="18.5">χ</tspan><tspan class="sf" font-size="15" dy="-3">″</tspan><tspan class="ss" dy="3" dx="5">(arb. units)</tspan></text>
<text x="414" y="60.2" font-size="15.4" fill="#111"><tspan class="ss" font-style="italic">E</tspan><tspan class="ss"> = [2.5 </tspan><tspan class="sf" font-size="16.3">meV</tspan><tspan class="ss">, 3.5 </tspan><tspan class="sf" font-size="16.3">meV</tspan><tspan class="ss">]</tspan></text>
<circle cx="418.4" cy="75.6" r="3.7" fill="#0a0a0a"/>
<text class="ss" x="441" y="80.3" font-size="15.4" fill="#111">7 K</text>
<rect x="415" y="91" width="7" height="7" fill="#f3100f"/>
<text class="ss" x="441" y="99.4" font-size="15.4" fill="#111">300 K</text>
<line x1="418.4" y1="108.0" x2="418.4" y2="120.0" stroke="#2a30a0" stroke-width="1.1"/>
<text class="ss" x="440" y="118.3" font-size="15.4" fill="#111">Nuclear peaks</text>
</g>
<g id="pc">
<text class="ss" transform="translate(619.3,22.6) scale(1.13,1)" font-size="19.8" fill="#111">(c)</text>
<defs>
<clipPath id="cclip"><rect x="665.6" y="37" width="259.1" height="258.3"/></clipPath>
<filter id="cb1" x="-20%" y="-50%" width="140%" height="200%"><feGaussianBlur stdDeviation="3.2 2.2"/></filter>
<filter id="cb2" x="-20%" y="-50%" width="140%" height="200%"><feGaussianBlur stdDeviation="1.6 1.2"/></filter>
<filter id="cb3" x="-20%" y="-50%" width="140%" height="200%"><feGaussianBlur stdDeviation="0.7 0.5"/></filter>
<linearGradient id="jet" x1="0" y1="1" x2="0" y2="0">
<stop offset="0" stop-color="#00008f"/><stop offset="0.11" stop-color="#0000f0"/><stop offset="0.125" stop-color="#0000ff"/><stop offset="0.375" stop-color="#00ffff"/><stop offset="0.5" stop-color="#80ff80"/><stop offset="0.625" stop-color="#ffff00"/><stop offset="0.875" stop-color="#ff0000"/><stop offset="1" stop-color="#800000"/>
</linearGradient>
</defs>
<path d="M665.6 295.3L665.6 259.0V255.0H668.3V249.8H670.3V244.7H672.3V238.2H674.2V231.7H676.2V221.3H680.1V212.2H684.0V203.1H687.8V199.2H690.0V195.3H692.2V190.8H694.4V186.2H696.5V178.4H699.8V170.6H703.5V162.9H707.2V155.1H710.9V147.3H714.6V140.8H718.4V137.6H720.7V134.3H723.0V131.4H725.2V128.5H727.5V123.8H730.5V119.2H733.4V114.7H736.5V110.2H739.6V105.6H742.8V101.0H745.9V97.0H748.6V92.9H751.3V88.9H754.0V85.0H756.7V81.2H759.4V77.3H762.1V72.9H765.1V68.5H768.1V64.2H771.2V60.0H774.2V56.5H776.7V53.0H779.1V49.5H781.7V46.0H784.3V43.2H786.5V40.5H788.6V37.0H791.2H924.7V295.3Z" fill="#01018e"/>
<g clip-path="url(#cclip)">
<clipPath id="cblue"><path d="M665.6 295.3L665.6 259.0V255.0H668.3V249.8H670.3V244.7H672.3V238.2H674.2V231.7H676.2V221.3H680.1V212.2H684.0V203.1H687.8V199.2H690.0V195.3H692.2V190.8H694.4V186.2H696.5V178.4H699.8V170.6H703.5V162.9H707.2V155.1H710.9V147.3H714.6V140.8H718.4V137.6H720.7V134.3H723.0V131.4H725.2V128.5H727.5V123.8H730.5V119.2H733.4V114.7H736.5V110.2H739.6V105.6H742.8V101.0H745.9V97.0H748.6V92.9H751.3V88.9H754.0V85.0H756.7V81.2H759.4V77.3H762.1V72.9H765.1V68.5H768.1V64.2H771.2V60.0H774.2V56.5H776.7V53.0H779.1V49.5H781.7V46.0H784.3V43.2H786.5V40.5H788.6V37.0H791.2H924.7V295.3Z"/></clipPath>
<filter id="jetC" filterUnits="userSpaceOnUse" x="740" y="37" width="185" height="90" color-interpolation-filters="sRGB">
<feTurbulence type="fractalNoise" baseFrequency="0.2 0.4" numOctaves="2" seed="4" result="n0"/>
<feColorMatrix in="n0" type="matrix" values="2.6 0 0 0 -0.8  2.6 0 0 0 -0.8  2.6 0 0 0 -0.8  0 0 0 0 1" result="n"/>
<feComposite in="SourceGraphic" in2="n" operator="arithmetic" k1="0.7" k2="0.68" k3="0" k4="0.0142" result="m"/>
<feComponentTransfer in="m"><feFuncR type="table" tableValues="0 0 0 0 0.5 1 1 1 0.5"/><feFuncG type="table" tableValues="0 0 0.5 1 1 1 0.5 0 0"/><feFuncB type="table" tableValues="0.5 1 1 1 0.5 0 0 0 0"/><feFuncA type="linear" slope="0" intercept="1"/></feComponentTransfer>
</filter>
<g clip-path="url(#cblue)"><g filter="url(#jetC)">
<rect x="738" y="35" width="190" height="95" fill="#000"/>
<g filter="url(#cb1)"><ellipse cx="799" cy="68" rx="31" ry="13" fill="#fff" opacity="0.28"/><ellipse cx="769" cy="79" rx="10" ry="4.5" fill="#fff" opacity="0.22" transform="rotate(-52 769 79)"/><ellipse cx="850" cy="66" rx="60" ry="9" fill="#fff" opacity="0.04"/></g>
<g filter="url(#cb2)"><ellipse cx="794" cy="67.5" rx="19" ry="9" fill="#fff" opacity="0.17"/><ellipse cx="789" cy="67" rx="11" ry="6" fill="#fff" opacity="0.2"/><ellipse cx="816" cy="70" rx="6" ry="3" fill="#fff" opacity="0.14"/></g>
<g filter="url(#cb3)"><ellipse cx="782.5" cy="68" rx="2.6" ry="2" fill="#fff" opacity="0.75"/><ellipse cx="793.5" cy="65.2" rx="2.6" ry="1.7" fill="#fff" opacity="0.75"/><ellipse cx="815.5" cy="70" rx="1.7" ry="2.3" fill="#fff" opacity="0.6"/><ellipse cx="787" cy="75" rx="2" ry="1.3" fill="#fff" opacity="0.4"/>
<g fill="#fff"><rect x="843.6" y="68.6" width="2.9" height="1.7" opacity="0.22"/><rect x="812.7" y="71.0" width="5.0" height="1.2" opacity="0.24"/><rect x="814.1" y="69.5" width="6.6" height="1.3" opacity="0.17"/><rect x="878.8" y="66.4" width="7.2" height="1.8" opacity="0.20"/><rect x="919.2" y="71.8" width="3.9" height="1.3" opacity="0.12"/><rect x="841.8" y="67.3" width="6.6" height="1.4" opacity="0.29"/><rect x="880.1" y="59.4" width="2.8" height="1.3" opacity="0.15"/><rect x="884.9" y="67.9" width="4.6" height="1.5" opacity="0.26"/><rect x="858.6" y="61.6" width="6.0" height="1.4" opacity="0.28"/><rect x="866.9" y="72.1" width="6.9" height="1.9" opacity="0.19"/><rect x="919.7" y="66.3" width="6.3" height="1.4" opacity="0.23"/><rect x="810.5" y="68.8" width="5.8" height="2.0" opacity="0.28"/><rect x="907.6" y="60.1" width="5.5" height="1.8" opacity="0.22"/><rect x="903.4" y="69.9" width="7.2" height="1.7" opacity="0.28"/><rect x="813.0" y="63.2" width="7.5" height="2.0" opacity="0.19"/><rect x="850.8" y="57.8" width="5.8" height="1.2" opacity="0.25"/><rect x="825.5" y="66.3" width="6.3" height="1.3" opacity="0.18"/><rect x="851.4" y="65.5" width="6.9" height="1.3" opacity="0.24"/><rect x="869.7" y="70.5" width="6.8" height="1.5" opacity="0.23"/><rect x="847.6" y="58.5" width="6.9" height="2.2" opacity="0.15"/><rect x="826.4" y="65.4" width="4.9" height="1.8" opacity="0.18"/><rect x="806.5" y="69.0" width="4.6" height="1.6" opacity="0.28"/><rect x="916.6" y="60.6" width="5.6" height="1.9" opacity="0.11"/><rect x="910.3" y="57.5" width="6.4" height="2.1" opacity="0.32"/><rect x="851.5" y="62.6" width="5.7" height="1.3" opacity="0.12"/><rect x="830.2" y="66.2" width="3.3" height="1.5" opacity="0.12"/><rect x="806.0" y="66.8" width="4.3" height="1.2" opacity="0.38"/><rect x="877.2" y="65.5" width="3.2" height="1.5" opacity="0.19"/><rect x="848.2" y="71.1" width="7.5" height="1.7" opacity="0.25"/><rect x="816.0" y="71.8" width="3.0" height="1.5" opacity="0.18"/><rect x="902.1" y="63.6" width="7.3" height="1.7" opacity="0.13"/><rect x="869.0" y="64.8" width="2.6" height="1.7" opacity="0.41"/><rect x="906.1" y="61.8" width="4.3" height="1.4" opacity="0.31"/><rect x="867.8" y="60.4" width="6.4" height="1.5" opacity="0.17"/><rect x="900.1" y="72.5" width="6.5" height="2.0" opacity="0.30"/><rect x="832.3" y="64.0" width="5.1" height="1.6" opacity="0.11"/><rect x="809.2" y="64.7" width="6.0" height="2.2" opacity="0.24"/><rect x="914.7" y="66.4" width="7.4" height="2.2" opacity="0.20"/><rect x="831.6" y="65.3" width="3.5" height="1.8" opacity="0.39"/><rect x="903.5" y="66.2" width="4.9" height="1.9" opacity="0.32"/><rect x="815.8" y="59.6" width="6.4" height="2.0" opacity="0.25"/><rect x="826.7" y="56.1" width="6.4" height="1.5" opacity="0.36"/><rect x="918.7" y="58.8" width="7.2" height="1.9" opacity="0.14"/><rect x="820.7" y="68.1" width="3.3" height="2.1" opacity="0.36"/><rect x="823.0" y="71.3" width="5.8" height="1.6" opacity="0.28"/><rect x="821.2" y="53.2" width="2.6" height="2.2" opacity="0.31"/><rect x="867.1" y="68.7" width="6.9" height="2.0" opacity="0.17"/><rect x="835.2" y="62.7" width="4.0" height="1.4" opacity="0.29"/><rect x="836.1" y="62.5" width="7.1" height="1.6" opacity="0.25"/><rect x="873.7" y="65.0" width="7.0" height="1.6" opacity="0.35"/><rect x="864.2" y="58.3" width="2.6" height="1.6" opacity="0.16"/><rect x="806.5" y="64.3" width="6.5" height="1.4" opacity="0.25"/><rect x="890.1" y="59.4" width="5.1" height="1.8" opacity="0.32"/><rect x="818.3" y="63.7" width="5.3" height="1.4" opacity="0.19"/><rect x="895.6" y="57.1" width="6.3" height="2.1" opacity="0.22"/><rect x="877.1" y="63.4" width="5.0" height="1.7" opacity="0.29"/><rect x="858.5" y="58.8" width="7.2" height="1.9" opacity="0.38"/><rect x="915.3" y="61.6" width="3.8" height="1.8" opacity="0.36"/><rect x="903.4" y="64.7" width="4.7" height="1.3" opacity="0.16"/><rect x="814.5" y="67.1" width="5.8" height="2.0" opacity="0.39"/><rect x="823.9" y="63.6" width="3.2" height="2.1" opacity="0.41"/><rect x="831.5" y="58.0" width="7.3" height="1.6" opacity="0.26"/><rect x="920.8" y="64.0" width="4.7" height="1.7" opacity="0.19"/><rect x="828.7" y="62.5" width="4.1" height="1.9" opacity="0.11"/><rect x="870.3" y="63.0" width="4.2" height="1.8" opacity="0.24"/><rect x="813.5" y="65.6" width="7.4" height="2.0" opacity="0.41"/><rect x="818.2" y="65.1" width="6.4" height="1.5" opacity="0.14"/><rect x="855.0" y="65.6" width="7.1" height="2.0" opacity="0.18"/><rect x="823.3" y="70.5" width="6.0" height="1.3" opacity="0.12"/><rect x="885.8" y="60.5" width="4.6" height="1.3" opacity="0.36"/><rect x="879.6" y="64.3" width="6.8" height="1.3" opacity="0.34"/><rect x="858.6" y="62.3" width="4.2" height="1.8" opacity="0.40"/><rect x="837.1" y="68.8" width="3.7" height="1.3" opacity="0.15"/><rect x="811.8" y="69.6" width="3.5" height="1.5" opacity="0.20"/><rect x="894.1" y="61.9" width="3.4" height="1.5" opacity="0.10"/><rect x="799.1" y="78.5" width="3.8" height="1.6" opacity="0.08"/><rect x="835.9" y="109.8" width="2.3" height="1.8" opacity="0.11"/><rect x="839.2" y="106.4" width="3.0" height="1.5" opacity="0.15"/><rect x="919.1" y="89.7" width="4.1" height="1.7" opacity="0.15"/><rect x="824.4" y="89.8" width="2.1" height="1.1" opacity="0.06"/><rect x="879.5" y="86.7" width="2.4" height="1.1" opacity="0.18"/><rect x="900.8" y="100.8" width="2.7" height="1.2" opacity="0.09"/><rect x="833.4" y="83.4" width="3.1" height="1.3" opacity="0.19"/><rect x="917.5" y="96.6" width="2.6" height="2.0" opacity="0.10"/><rect x="816.5" y="78.0" width="3.0" height="1.5" opacity="0.13"/><rect x="791.0" y="95.2" width="2.0" height="1.3" opacity="0.06"/><rect x="823.5" y="79.4" width="2.1" height="1.3" opacity="0.08"/><rect x="854.0" y="96.0" width="3.9" height="1.7" opacity="0.16"/><rect x="902.2" y="91.2" width="2.8" height="2.0" opacity="0.07"/><rect x="876.8" y="99.9" width="2.1" height="1.8" opacity="0.18"/><rect x="860.9" y="103.0" width="4.0" height="1.1" opacity="0.13"/><rect x="840.7" y="106.4" width="4.0" height="1.8" opacity="0.14"/><rect x="904.4" y="101.2" width="3.7" height="1.2" opacity="0.05"/><rect x="779.8" y="90.3" width="2.3" height="1.8" opacity="0.13"/><rect x="861.0" y="99.3" width="3.7" height="1.5" opacity="0.05"/><rect x="888.8" y="103.4" width="3.3" height="1.5" opacity="0.15"/><rect x="768.8" y="103.1" width="2.6" height="1.1" opacity="0.09"/><rect x="877.6" y="85.0" width="3.8" height="2.0" opacity="0.12"/><rect x="820.7" y="94.3" width="3.7" height="1.8" opacity="0.14"/><rect x="875.6" y="41.1" width="2.4" height="1.3" opacity="0.16"/><rect x="831.6" y="47.9" width="2.0" height="1.1" opacity="0.09"/><rect x="879.4" y="49.7" width="4.0" height="1.3" opacity="0.13"/><rect x="852.4" y="46.5" width="2.4" height="1.9" opacity="0.08"/><rect x="919.2" y="53.1" width="2.1" height="1.5" opacity="0.17"/><rect x="917.9" y="46.3" width="2.8" height="1.2" opacity="0.19"/><rect x="819.4" y="48.1" width="2.4" height="1.5" opacity="0.19"/><rect x="809.2" y="51.5" width="3.5" height="1.9" opacity="0.16"/><rect x="822.1" y="52.6" width="3.5" height="1.0" opacity="0.05"/><rect x="855.9" y="46.3" width="2.9" height="1.1" opacity="0.10"/><rect x="833.1" y="51.8" width="2.0" height="1.8" opacity="0.18"/><rect x="807.6" y="53.0" width="4.1" height="1.9" opacity="0.09"/><rect x="840.4" y="45.5" width="5.0" height="1.6" opacity="0.10"/><rect x="847.6" y="43.9" width="2.1" height="1.1" opacity="0.18"/><rect x="829.1" y="53.1" width="2.7" height="1.3" opacity="0.13"/><rect x="816.7" y="45.2" width="4.9" height="1.9" opacity="0.17"/><rect x="874.0" y="52.8" width="4.8" height="1.5" opacity="0.16"/><rect x="798.4" y="50.3" width="3.4" height="1.8" opacity="0.15"/><rect x="829.2" y="40.7" width="4.8" height="1.1" opacity="0.12"/><rect x="836.7" y="44.2" width="4.2" height="2.0" opacity="0.09"/><rect x="877.3" y="44.2" width="3.7" height="1.4" opacity="0.08"/><rect x="813.0" y="42.9" width="4.7" height="1.5" opacity="0.08"/><rect x="909.8" y="54.0" width="3.3" height="1.1" opacity="0.08"/><rect x="803.8" y="44.8" width="2.3" height="1.2" opacity="0.09"/><rect x="866.1" y="52.4" width="4.2" height="1.4" opacity="0.11"/><rect x="860.1" y="45.3" width="3.0" height="1.1" opacity="0.09"/><rect x="917.8" y="41.8" width="3.5" height="1.6" opacity="0.18"/><rect x="820.1" y="43.8" width="2.7" height="1.4" opacity="0.12"/><rect x="916.0" y="51.9" width="4.6" height="1.0" opacity="0.05"/><rect x="884.2" y="52.5" width="3.4" height="1.6" opacity="0.05"/></g></g>
</g></g>
<rect x="757.5" y="80.9" width="2.6" height="2.6" fill="#e03000"/><rect x="761.3000000000001" y="75.3" width="2.6" height="2.6" fill="#301010"/><rect x="764.9000000000001" y="70.10000000000001" width="2.6" height="2.6" fill="#e05000"/><rect x="768.5" y="64.9" width="2.6" height="2.6" fill="#402020"/><rect x="772.1" y="59.900000000000006" width="2.6" height="2.6" fill="#f0a000"/><rect x="775.7" y="55.1" width="2.6" height="2.6" fill="#30c0c0"/>
<rect x="665.6" y="279.8" width="259.1" height="15.5" fill="#990a0c"/>
<rect x="750.5" y="280.8" width="1.6" height="14" fill="#1a1a9a" opacity="0.9"/><rect x="787" y="281.8" width="5.5" height="13" fill="#1a1a9a" opacity="0.9"/><rect x="800.5" y="282.8" width="2.4" height="12" fill="#1a1a9a" opacity="0.9"/><rect x="861.5" y="281.8" width="4" height="13" fill="#1a1a9a" opacity="0.9"/><rect x="736" y="286.8" width="1" height="8" fill="#1a1a9a" opacity="0.9"/><rect x="823" y="288.8" width="1" height="6" fill="#1a1a9a" opacity="0.9"/><rect x="905" y="287.8" width="1.2" height="7" fill="#1a1a9a" opacity="0.9"/><rect x="726.3" y="279.9" width="4.2" height="1.2" fill="#d0d0f8" opacity="0.8"/><rect x="786.5" y="278.6" width="4.3" height="1.2" fill="#c8c8f0" opacity="0.8"/><rect x="879.2" y="278.9" width="3.0" height="1.2" fill="#f8d8c8" opacity="0.8"/><rect x="848.5" y="279.3" width="4.2" height="1.2" fill="#c8c8f0" opacity="0.8"/><rect x="828.6" y="278.8" width="2.6" height="1.2" fill="#ffc090" opacity="0.8"/><rect x="901.8" y="279.5" width="3.6" height="1.2" fill="#f0b8a0" opacity="0.8"/><rect x="681.9" y="278.7" width="5.0" height="1.2" fill="#c8c8f0" opacity="0.8"/><rect x="864.6" y="279.3" width="5.3" height="1.2" fill="#d0d0f8" opacity="0.8"/><rect x="849.0" y="279.7" width="5.5" height="1.2" fill="#ffc090" opacity="0.8"/><rect x="774.5" y="279.2" width="4.9" height="1.2" fill="#c8c8f0" opacity="0.8"/><rect x="904.3" y="278.7" width="5.5" height="1.2" fill="#f0b8a0" opacity="0.8"/><rect x="791.8" y="279.2" width="3.0" height="1.2" fill="#ffc090" opacity="0.8"/><rect x="825.5" y="279.8" width="3.2" height="1.2" fill="#c8c8f0" opacity="0.8"/><rect x="812.0" y="279.4" width="4.1" height="1.2" fill="#ffa060" opacity="0.8"/><rect x="896.3" y="279.8" width="4.7" height="1.2" fill="#f0b8a0" opacity="0.8"/><rect x="918.4" y="279.6" width="4.7" height="1.2" fill="#f8d8c8" opacity="0.8"/><rect x="748.9" y="279.4" width="4.2" height="1.2" fill="#c8c8f0" opacity="0.8"/><rect x="847.7" y="280.0" width="2.8" height="1.2" fill="#f0e0e0" opacity="0.8"/><rect x="733.7" y="279.8" width="2.5" height="1.2" fill="#ffa060" opacity="0.8"/><rect x="918.1" y="278.7" width="2.4" height="1.2" fill="#f0e0e0" opacity="0.8"/><rect x="894.4" y="279.7" width="2.1" height="1.2" fill="#ffa060" opacity="0.8"/><rect x="888.2" y="279.7" width="2.2" height="1.2" fill="#c8c8f0" opacity="0.8"/><rect x="762.0" y="279.8" width="4.3" height="1.2" fill="#c8c8f0" opacity="0.8"/><rect x="915.8" y="279.0" width="4.0" height="1.2" fill="#f0b8a0" opacity="0.8"/><rect x="685.2" y="279.9" width="4.4" height="1.2" fill="#f0b8a0" opacity="0.8"/><rect x="913.4" y="278.8" width="3.2" height="1.2" fill="#d0d0f8" opacity="0.8"/><rect x="676.4" y="279.1" width="5.5" height="1.2" fill="#d0d0f8" opacity="0.8"/><rect x="700.9" y="279.2" width="5.4" height="1.2" fill="#ffa060" opacity="0.8"/><rect x="798.3" y="279.6" width="4.6" height="1.2" fill="#c8c8f0" opacity="0.8"/><rect x="691.8" y="279.3" width="5.9" height="1.2" fill="#f0e0e0" opacity="0.8"/><rect x="775.6" y="279.9" width="4.9" height="1.2" fill="#f8d8c8" opacity="0.8"/><rect x="777.2" y="279.4" width="3.0" height="1.2" fill="#d0d0f8" opacity="0.8"/><rect x="668.5" y="279.0" width="3.7" height="1.2" fill="#c8c8f0" opacity="0.8"/><rect x="761.6" y="278.7" width="4.4" height="1.2" fill="#f8d8c8" opacity="0.8"/><rect x="825.6" y="279.9" width="3.9" height="1.2" fill="#ffc090" opacity="0.8"/><rect x="820.9" y="278.6" width="3.1" height="1.2" fill="#ffa060" opacity="0.8"/><rect x="681.1" y="279.0" width="4.7" height="1.2" fill="#d0d0f8" opacity="0.8"/><rect x="782.0" y="278.8" width="4.4" height="1.2" fill="#d0d0f8" opacity="0.8"/><rect x="712.9" y="279.4" width="5.0" height="1.2" fill="#f0e0e0" opacity="0.8"/><rect x="742.2" y="279.7" width="3.5" height="1.2" fill="#f0e0e0" opacity="0.8"/><rect x="913.4" y="279.0" width="4.7" height="1.2" fill="#f8d8c8" opacity="0.8"/><rect x="722.4" y="279.1" width="5.2" height="1.2" fill="#f8d8c8" opacity="0.8"/><rect x="838.6" y="278.7" width="4.6" height="1.2" fill="#f0b8a0" opacity="0.8"/><rect x="747.7" y="278.9" width="3.3" height="1.2" fill="#f0e0e0" opacity="0.8"/><rect x="872.2" y="279.1" width="5.8" height="1.2" fill="#f0b8a0" opacity="0.8"/><rect x="831.5" y="279.0" width="5.5" height="1.2" fill="#ffa060" opacity="0.8"/><rect x="866.4" y="279.0" width="2.1" height="1.2" fill="#f8d8c8" opacity="0.8"/><rect x="878.9" y="279.0" width="4.3" height="1.2" fill="#f0e0e0" opacity="0.8"/><rect x="871.5" y="279.5" width="4.6" height="1.2" fill="#f0e0e0" opacity="0.8"/><rect x="816.0" y="279.7" width="3.7" height="1.2" fill="#c8c8f0" opacity="0.8"/><rect x="734.8" y="279.0" width="3.4" height="1.2" fill="#ffa060" opacity="0.8"/><rect x="810.6" y="278.8" width="2.1" height="1.2" fill="#ffa060" opacity="0.8"/><rect x="666.8" y="280.0" width="5.8" height="1.2" fill="#c8c8f0" opacity="0.8"/><rect x="776.4" y="278.9" width="5.8" height="1.2" fill="#ffc090" opacity="0.8"/><rect x="855.8" y="279.6" width="5.3" height="1.2" fill="#ffc090" opacity="0.8"/><rect x="911.4" y="279.8" width="4.2" height="1.2" fill="#f8d8c8" opacity="0.8"/><rect x="884.5" y="279.7" width="5.9" height="1.2" fill="#f0b8a0" opacity="0.8"/><rect x="677.1" y="279.3" width="5.6" height="1.2" fill="#ffc090" opacity="0.8"/><rect x="716.2" y="279.4" width="5.5" height="1.2" fill="#ffa060" opacity="0.8"/><rect x="669.0" y="279.3" width="5.0" height="1.2" fill="#f8d8c8" opacity="0.8"/>
<rect x="757.3" y="116" width="167.4" height="161.4" fill="#b5b8e1"/>
</g>
<rect x="789.8" y="117.9" width="131.2" height="129.4" fill="none" stroke="#222" stroke-width="1"/>
<path d="M789.8 247.3v-3.5M789.8 117.9v3.5M827.1 247.3v-3.5M827.1 117.9v3.5M864.3 247.3v-3.5M864.3 117.9v3.5M901.6 247.3v-3.5M901.6 117.9v3.5M808.4 247.3v-2M808.4 117.9v2M845.7 247.3v-2M845.7 117.9v2M883.0 247.3v-2M883.0 117.9v2M920.3 247.3v-2M920.3 117.9v2M789.8 195.6h3.5M921.0 195.6h-3.5M789.8 143.9h3.5M921.0 143.9h-3.5M789.8 221.5h2M921.0 221.5h-2M789.8 169.8h2M921.0 169.8h-2" stroke="#222" stroke-width="0.9" fill="none"/>
<path d="M789.8 134.1 L808.4 148.0 L827.1 161.5 L845.7 173.9 L864.3 184.7 L883.0 194.0 L901.6 202.3 L921.0 207.2" stroke="#e03030" stroke-width="1.1" fill="none"/>
<path d="M812.2 141.8V158.4M810.2 141.8h4M810.2 158.4h4M827.1 140.8V157.3M825.1 140.8h4M825.1 157.3h4M842.0 165.1V183.7M840.0 165.1h4M840.0 183.7h4M856.9 172.9V195.6M854.9 172.9h4M854.9 195.6h4M871.8 207.5V235.4M869.8 207.5h4M869.8 235.4h4M886.7 200.3V231.3M884.7 200.3h4M884.7 231.3h4M901.6 209.6V243.7M899.6 209.6h4M899.6 243.7h4" stroke="#222" stroke-width="0.9" fill="none"/>
<circle cx="812.2" cy="150.1" r="2.7" fill="#0a0a0a"/><circle cx="827.1" cy="149.1" r="2.7" fill="#0a0a0a"/><circle cx="842.0" cy="174.4" r="2.7" fill="#0a0a0a"/><circle cx="856.9" cy="184.2" r="2.7" fill="#0a0a0a"/><circle cx="871.8" cy="221.5" r="2.7" fill="#0a0a0a"/><circle cx="886.7" cy="215.8" r="2.7" fill="#0a0a0a"/><circle cx="901.6" cy="226.6" r="2.7" fill="#0a0a0a"/>
<text class="ss" x="802.5" y="131.3" font-size="10.8" fill="#111"><tspan font-style="italic">E</tspan> = [45 meV, 47 meV]</text>
<line x1="843.0" y1="143.9" x2="865.5" y2="143.9" stroke="#e03030" stroke-width="1.1"/>
<text class="ss" x="867.5" y="148" font-size="11" fill="#111">|<tspan font-style="italic">F</tspan><tspan font-style="italic" font-size="7.5" dy="2">m</tspan><tspan dy="-2">(Ni</tspan><tspan font-size="7" dy="-3.5">2+</tspan><tspan dy="3.5">)|</tspan><tspan font-size="7" dy="-4">2</tspan></text>
<text class="ss" x="793.3" y="238.2" font-size="10.6" fill="#111">7 K – 300 K</text>
<text class="ss" x="787.3" y="147.3" font-size="9.6" fill="#111" text-anchor="end">0.2</text>
<text class="ss" x="787.3" y="199.00000000000003" font-size="9.6" fill="#111" text-anchor="end">0.1</text>
<text class="ss" x="787.3" y="250.70000000000002" font-size="9.6" fill="#111" text-anchor="end">0.0</text>
<text class="ss" x="789.8" y="259.3" font-size="9.6" fill="#111" text-anchor="middle">2.5</text>
<text class="ss" x="827.0749999999999" y="259.3" font-size="9.6" fill="#111" text-anchor="middle">3.0</text>
<text class="ss" x="864.3499999999999" y="259.3" font-size="9.6" fill="#111" text-anchor="middle">3.5</text>
<text class="ss" x="901.625" y="259.3" font-size="9.6" fill="#111" text-anchor="middle">4.0</text>
<text x="832.5" y="274.5" font-size="13" fill="#111"><tspan class="ss">|<tspan font-style="italic">Q</tspan>| </tspan><tspan class="sf" font-size="13.5">(Å</tspan><tspan class="sf" font-size="8.5" dy="-5">-1</tspan><tspan class="sf" font-size="13.5" dy="5">)</tspan></text>
<text class="ss" transform="translate(769.6,183) rotate(-90)" text-anchor="middle" font-size="13.3" fill="#111">Intensity (arb. units)</text>
<path d="M665.6 295.3 V37.0 H790" fill="none" stroke="#111" stroke-width="1.2"/>
<path d="M688.8 37.0v4M741.2 37.0v4M715.0 37.0v2.5M767.4 37.0v2.5M665.6 245.6h4M665.6 196.0h4M665.6 146.3h4M665.6 96.6h4M665.6 47.0h4M665.6 270.5h2.5M665.6 220.8h2.5M665.6 171.1h2.5M665.6 121.5h2.5M665.6 71.8h2.5" stroke="#111" stroke-width="1" fill="none"/>
<text class="ss" x="662" y="300.7" font-size="15.2" fill="#111" text-anchor="end">0</text>
<text class="ss" x="662" y="251.03000000000003" font-size="15.2" fill="#111" text-anchor="end">10</text>
<text class="ss" x="662" y="201.36000000000004" font-size="15.2" fill="#111" text-anchor="end">20</text>
<text class="ss" x="662" y="151.69000000000003" font-size="15.2" fill="#111" text-anchor="end">30</text>
<text class="ss" x="662" y="102.02000000000004" font-size="15.2" fill="#111" text-anchor="end">40</text>
<text class="ss" x="662" y="52.350000000000016" font-size="15.2" fill="#111" text-anchor="end">50</text>
<text class="ss" x="688.8000000000001" y="312" font-size="15.2" fill="#111" text-anchor="middle">1</text>
<text class="ss" x="741.2" y="312" font-size="15.2" fill="#111" text-anchor="middle">2</text>
<text class="ss" x="793.6" y="312" font-size="15.2" fill="#111" text-anchor="middle">3</text>
<text class="ss" x="846.0" y="312" font-size="15.2" fill="#111" text-anchor="middle">4</text>
<text class="ss" x="898.4" y="312" font-size="15.2" fill="#111" text-anchor="middle">5</text>
<text class="ss" x="672.3" y="55.6" font-size="17.6" fill="#111">7 K − 300 K</text>
<text x="758" y="339" font-size="22.5" fill="#111"><tspan class="ss">|<tspan font-style="italic">Q</tspan>| </tspan><tspan class="sf" font-size="23">(Å</tspan><tspan class="sf" font-size="14" dy="-8.5">-1</tspan><tspan class="sf" font-size="23" dy="8.5">)</tspan></text>
<text class="ss" transform="translate(640.6,166) rotate(-90)" text-anchor="middle" font-size="22.3" fill="#111"><tspan font-style="italic">E</tspan> (meV)</text>
<rect x="931.4" y="87.8" width="15" height="206.6" fill="url(#jet)"/>
<text class="ss" x="949.5" y="93.3" font-size="15" fill="#111">0.3</text>
<text class="ss" x="949.5" y="162.10000000000002" font-size="15" fill="#111">0.2</text>
<text class="ss" x="949.5" y="230.9" font-size="15" fill="#111">0.1</text>
<text class="ss" x="949.5" y="299.8" font-size="15" fill="#111">0</text>
<text class="ss" transform="translate(987.5,196) rotate(-90)" text-anchor="middle" font-size="15.2" fill="#111">Intensity (arb. units)</text>
</g>
<g id="pd">
<text class="ss" transform="translate(0.8,422.2) scale(1.06,1)" font-size="21.7" fill="#111">(d)</text>
<text class="ss" x="38.2" y="422" font-size="17.6" fill="#111">Single spin-charge stripe</text>
<path d="M20.6 467.8 L87.7 470.6 L75.4 495.2 L9.6 492.5 Z" fill="none" stroke="#4aa85a" stroke-width="0.9"/>
<line x1="54.8" y1="467.8" x2="54.8" y2="513.1" stroke="#4d4d4d" stroke-width="1.2" stroke-dasharray="3.2 2.6"/><line x1="15.9" y1="524" x2="54.8" y2="513.1" stroke="#4d4d4d" stroke-width="1.2" stroke-dasharray="3.2 2.6"/><line x1="54.8" y1="513.1" x2="81.7" y2="528.1" stroke="#4d4d4d" stroke-width="1.2" stroke-dasharray="3.2 2.6"/>
<line x1="15.9" y1="480.2" x2="54.8" y2="467.8" stroke="#4d4d4d" stroke-width="1.4"/><line x1="54.8" y1="467.8" x2="81.7" y2="482.9" stroke="#4d4d4d" stroke-width="1.4"/><line x1="81.7" y1="482.9" x2="42.5" y2="493.3" stroke="#4d4d4d" stroke-width="1.4"/><line x1="42.5" y1="493.3" x2="15.9" y2="480.2" stroke="#4d4d4d" stroke-width="1.4"/><line x1="15.9" y1="480.2" x2="15.9" y2="524" stroke="#4d4d4d" stroke-width="1.4"/><line x1="42.5" y1="493.3" x2="42.5" y2="538.3" stroke="#4d4d4d" stroke-width="1.4"/><line x1="81.7" y1="482.9" x2="81.7" y2="528.1" stroke="#4d4d4d" stroke-width="1.4"/><line x1="15.9" y1="524" x2="42.5" y2="538.3" stroke="#4d4d4d" stroke-width="1.4"/><line x1="42.5" y1="538.3" x2="81.7" y2="528.1" stroke="#4d4d4d" stroke-width="1.4"/>
<line x1="79" y1="487" x2="79" y2="523" stroke="#b03038" stroke-width="0.9" stroke-dasharray="2.5 2"/>
<path d="M15.9 491 V468.5" stroke="#b0202a" stroke-width="1.3" fill="none"/><path d="M15.9 467.0 l-2.6 5.5 h5.2z" fill="#b0202a"/><path d="M81.7 473 V495" stroke="#0c7a3c" stroke-width="1.3" fill="none"/><path d="M81.7 496.5 l-2.6 -5.5 h5.2z" fill="#0c7a3c"/><path d="M15.9 515 V537.5" stroke="#0c7a3c" stroke-width="1.3" fill="none"/><path d="M15.9 539.0 l-2.6 -5.5 h5.2z" fill="#0c7a3c"/><path d="M81.7 539.5 V514.5" stroke="#b0202a" stroke-width="1.3" fill="none"/><path d="M81.7 513.0 l-2.6 5.5 h5.2z" fill="#b0202a"/>
<circle cx="15.9" cy="480.2" r="5.4" fill="#e5141f"/><circle cx="54.8" cy="467.8" r="5.4" fill="#8b8b8b"/><circle cx="81.7" cy="482.9" r="5.4" fill="#0c9a49"/><circle cx="42.5" cy="493.3" r="5.4" fill="#8b8b8b"/><circle cx="15.9" cy="524.0" r="5.4" fill="#0c9a49"/><circle cx="54.8" cy="513.1" r="5.4" fill="#8b8b8b"/><circle cx="81.7" cy="528.1" r="5.4" fill="#e5141f"/><circle cx="42.5" cy="538.3" r="5.4" fill="#8b8b8b"/>
<text class="ss" x="61" y="508" font-size="15" fill="#9e2f3a" font-style="italic">J<tspan font-size="9" font-style="normal" dy="2.5">⊥</tspan></text>
<path d="M28.8 617.8 V556 M28.8 617.8 L70.5 619.3 M28.8 617.8 L41 596.5" stroke="#3ca64a" stroke-width="1.1" fill="none"/>
<path d="M28.8 552 l-2.2 5.2 h4.4z M74.5 619.5 l-5.2 -2.4 l-0.2 4.6z M42.8 593.2 l-4.4 3.4 l3.8 2.2z" fill="#3ca64a"/>
<text class="ss" x="17.8" y="556.5" font-size="13.5" fill="#3ca64a" font-weight="bold">c</text>
<text class="ss" x="44" y="598" font-size="13.5" fill="#3ca64a" font-weight="bold">b</text>
<text class="ss" x="76.5" y="623.5" font-size="13.5" fill="#3ca64a" font-weight="bold">a</text>
<path d="M131.1 478.4V570.6M162.0 478.4V570.6M192.8 478.4V570.6M223.5 478.4V570.6M131.1 478.4H223.5M131.1 509.5H223.5M131.1 539.8H223.5M131.1 570.6H223.5" stroke="#4d4d4d" stroke-width="1.4" fill="none"/>
<path d="M131.1 509.5 C 122 525, 122 552, 131.1 570.6" fill="none" stroke="#4f93c4" stroke-width="0.9" stroke-dasharray="3 2.2"/>
<path d="M131.1 570.6 C 150 580.5, 174 580.5, 192.8 570.6" fill="none" stroke="#4f93c4" stroke-width="0.9" stroke-dasharray="3 2.2"/>
<path d="M131.1 570.6 L162 539.8" fill="none" stroke="#3a9a50" stroke-width="0.9" stroke-dasharray="1.2 1.6"/>
<path d="M208.3 525.1 L239 555.8 L208.3 586.3 L177.3 555.8 Z" fill="none" stroke="#4e9a5c" stroke-width="0.9"/>
<circle cx="131.1" cy="478.4" r="4.6" fill="#8b8b8b"/><circle cx="162.0" cy="478.4" r="4.6" fill="#e5141f"/><circle cx="192.8" cy="478.4" r="4.6" fill="#8b8b8b"/><circle cx="223.5" cy="478.4" r="4.6" fill="#0c9a49"/><circle cx="131.1" cy="509.5" r="4.6" fill="#0c9a49"/><circle cx="162.0" cy="509.5" r="4.6" fill="#8b8b8b"/><circle cx="192.8" cy="509.5" r="4.6" fill="#e5141f"/><circle cx="223.5" cy="509.5" r="4.6" fill="#8b8b8b"/><circle cx="131.1" cy="539.8" r="4.6" fill="#8b8b8b"/><circle cx="162.0" cy="539.8" r="4.6" fill="#0c9a49"/><circle cx="192.8" cy="539.8" r="4.6" fill="#8b8b8b"/><circle cx="223.5" cy="539.8" r="4.6" fill="#e5141f"/><circle cx="131.1" cy="570.6" r="4.6" fill="#e5141f"/><circle cx="162.0" cy="570.6" r="4.6" fill="#8b8b8b"/><circle cx="192.8" cy="570.6" r="4.6" fill="#0c9a49"/><circle cx="223.5" cy="570.6" r="4.6" fill="#8b8b8b"/>
<text class="ss" x="98" y="468.4" font-size="12" fill="#9a9a9a">Non-magnetic</text>
<text class="ss" x="137.3" y="490.6" font-size="12" fill="#9e2f3a">Spin up</text>
<text class="ss" x="106" y="502.8" font-size="12" fill="#2a9560">Spin down</text>
<text class="ss" x="112" y="536.5" font-size="14.5" fill="#4f93c4" font-style="italic">J<tspan font-size="8.5" font-style="normal" dy="3">3</tspan></text>
<text class="ss" x="146" y="563" font-size="14.5" fill="#3a9a50" font-style="italic">J<tspan font-size="8.5" font-style="normal" dy="3">2</tspan></text>
<text class="ss" x="158" y="595" font-size="14.5" fill="#4f93c4" font-style="italic">J<tspan font-size="8.5" font-style="normal" dy="3">3</tspan></text>
<path d="M188 586 L210.1 607 L230.5 587" stroke="#3ca64a" stroke-width="1.1" fill="none"/>
<path d="M185.6 583.6 l5.4 1.4 l-3.6 3.6z M232.6 584.8 l-1.6 5.4 l-3.6 -3.6z" fill="#3ca64a"/>
<text class="ss" x="174.5" y="589.5" font-size="13.5" fill="#3ca64a" font-weight="bold">b</text>
<text class="ss" x="235.5" y="588" font-size="13.5" fill="#3ca64a" font-weight="bold">a</text>
</g>
<g id="pf">
<text class="ss" transform="translate(515.8,422.2) scale(1.06,1)" font-size="21.7" fill="#111">(f)</text>
<text class="ss" x="551.3" y="422" font-size="17.4" fill="#111">Double spin stripe</text>
<path d="M551.5 470.9V624.9M582.5 470.9V624.9M613.6 470.9V624.9M644.5 470.9V624.9M675.4 470.9V624.9M706.5 470.9V624.9M551.5 470.9H706.5M551.5 501.5H706.5M551.5 532.3H706.5M551.5 563.4H706.5M551.5 594.3H706.5M551.5 624.9H706.5" stroke="#3a3a3a" stroke-width="1.3" fill="none"/>
<path d="M551.5 501.5 C 540.5 518, 540.5 547, 551.5 563.4" fill="none" stroke="#4f93c4" stroke-width="0.9" stroke-dasharray="3 2.2"/>
<path d="M551.5 563.4 C 570 573.5, 595 573.5, 613.6 563.4" fill="none" stroke="#4f93c4" stroke-width="0.9" stroke-dasharray="3 2.2"/>
<path d="M551.5 501.5 L582.5 532.3 M675.4 501.5 L706.5 532.3" fill="none" stroke="#6a8a70" stroke-width="0.8" stroke-dasharray="1.2 1.5"/>
<path d="M689.9 579.4 L720.8 609.9 L689.9 640.8 L659.4 609.9 Z" fill="none" stroke="#4e9a5c" stroke-width="0.9"/>
<circle cx="551.5" cy="470.9" r="4.5" fill="#e5141f"/><circle cx="582.5" cy="470.9" r="4.5" fill="#e5141f"/><circle cx="613.6" cy="470.9" r="4.5" fill="#0c9a49"/><circle cx="644.5" cy="470.9" r="4.5" fill="#0c9a49"/><circle cx="675.4" cy="470.9" r="4.5" fill="#e5141f"/><circle cx="706.5" cy="470.9" r="4.5" fill="#e5141f"/><circle cx="551.5" cy="501.5" r="4.5" fill="#0c9a49"/><circle cx="582.5" cy="501.5" r="4.5" fill="#e5141f"/><circle cx="613.6" cy="501.5" r="4.5" fill="#e5141f"/><circle cx="644.5" cy="501.5" r="4.5" fill="#0c9a49"/><circle cx="675.4" cy="501.5" r="4.5" fill="#0c9a49"/><circle cx="706.5" cy="501.5" r="4.5" fill="#e5141f"/><circle cx="551.5" cy="532.3" r="4.5" fill="#0c9a49"/><circle cx="582.5" cy="532.3" r="4.5" fill="#0c9a49"/><circle cx="613.6" cy="532.3" r="4.5" fill="#e5141f"/><circle cx="644.5" cy="532.3" r="4.5" fill="#e5141f"/><circle cx="675.4" cy="532.3" r="4.5" fill="#0c9a49"/><circle cx="706.5" cy="532.3" r="4.5" fill="#0c9a49"/><circle cx="551.5" cy="563.4" r="4.5" fill="#e5141f"/><circle cx="582.5" cy="563.4" r="4.5" fill="#0c9a49"/><circle cx="613.6" cy="563.4" r="4.5" fill="#0c9a49"/><circle cx="644.5" cy="563.4" r="4.5" fill="#e5141f"/><circle cx="675.4" cy="563.4" r="4.5" fill="#e5141f"/><circle cx="706.5" cy="563.4" r="4.5" fill="#0c9a49"/><circle cx="551.5" cy="594.3" r="4.5" fill="#e5141f"/><circle cx="582.5" cy="594.3" r="4.5" fill="#e5141f"/><circle cx="613.6" cy="594.3" r="4.5" fill="#0c9a49"/><circle cx="644.5" cy="594.3" r="4.5" fill="#0c9a49"/><circle cx="675.4" cy="594.3" r="4.5" fill="#e5141f"/><circle cx="706.5" cy="594.3" r="4.5" fill="#e5141f"/><circle cx="551.5" cy="624.9" r="4.5" fill="#0c9a49"/><circle cx="582.5" cy="624.9" r="4.5" fill="#e5141f"/><circle cx="613.6" cy="624.9" r="4.5" fill="#e5141f"/><circle cx="644.5" cy="624.9" r="4.5" fill="#0c9a49"/><circle cx="675.4" cy="624.9" r="4.5" fill="#0c9a49"/><circle cx="706.5" cy="624.9" r="4.5" fill="#e5141f"/>
<text class="ss" x="536" y="464" font-size="12" fill="#9e2f3a">Spin up</text>
<text class="ss" x="535" y="492.5" font-size="12" fill="#2a9560">Spin down</text>
<text class="ss" x="531" y="529" font-size="14.5" fill="#4f93c4" font-style="italic">J<tspan font-size="8.5" font-style="normal" dy="3">3</tspan></text>
<text class="ss" x="584.5" y="582" font-size="14.5" fill="#4f93c4" font-style="italic">J<tspan font-size="8.5" font-style="normal" dy="3">3</tspan></text>
<path d="M672 641 L692.6 661.7 L714 640.2" stroke="#3ca64a" stroke-width="1.1" fill="none"/>
<path d="M669.6 638.6 l5.4 1.4 l-3.6 3.6z M716.2 638 l-1.6 5.4 l-3.6 -3.6z" fill="#3ca64a"/>
<text class="ss" x="659" y="645.5" font-size="13.5" fill="#3ca64a" font-weight="bold">b</text>
<text class="ss" x="719.5" y="643.5" font-size="13.5" fill="#3ca64a" font-weight="bold">a</text>
</g>
<g id="pe">
<defs>
<filter id="jetE" filterUnits="userSpaceOnUse" x="294.2" y="436.7" width="214.8" height="213.5" color-interpolation-filters="sRGB">
<feTurbulence type="fractalNoise" baseFrequency="0.45 0.13" numOctaves="2" seed="5" result="n0"/>
<feColorMatrix in="n0" type="matrix" values="2.2 0 0 0 -0.6  2.2 0 0 0 -0.6  2.2 0 0 0 -0.6  0 0 0 0 1" result="n"/>
<feComposite in="SourceGraphic" in2="SourceGraphic" operator="arithmetic" k1="1" k2="0" k3="0" k4="0" result="sq"/>
<feComposite in="sq" in2="SourceGraphic" operator="arithmetic" k1="-1" k2="1" k3="0" k4="0" result="u"/>
<feComposite in="SourceGraphic" in2="u" operator="arithmetic" k1="0" k2="1" k3="-1.7" k4="0" result="bs"/>
<feComposite in="u" in2="n" operator="arithmetic" k1="3.4" k2="0" k3="0" k4="0" result="t"/>
<feComposite in="bs" in2="t" operator="arithmetic" k1="0" k2="1" k3="1" k4="0" result="m"/>
<feComponentTransfer in="m"><feFuncR type="table" tableValues="0 0 0 0 0.5 1 1 1 0.5"/><feFuncG type="table" tableValues="0 0 0.5 1 1 1 0.5 0 0"/><feFuncB type="table" tableValues="0.5 1 1 1 0.5 0 0 0 0"/><feFuncA type="linear" slope="0" intercept="1"/></feComponentTransfer>
</filter>
<filter id="b8E" x="-40%" y="-40%" width="180%" height="180%"><feGaussianBlur stdDeviation="9"/></filter>
<filter id="b4E" x="-30%" y="-30%" width="160%" height="160%"><feGaussianBlur stdDeviation="4"/></filter>
<filter id="b2E" x="-30%" y="-30%" width="160%" height="160%"><feGaussianBlur stdDeviation="2"/></filter>
<filter id="b1E" x="-30%" y="-30%" width="160%" height="160%"><feGaussianBlur stdDeviation="1"/></filter>
<filter id="b05E" x="-30%" y="-30%" width="160%" height="160%"><feGaussianBlur stdDeviation="0.5"/></filter>
<filter id="bhE" x="-30%" y="-100%" width="160%" height="300%"><feGaussianBlur stdDeviation="6 1.6"/></filter>
<clipPath id="clipE"><rect x="294.2" y="436.7" width="214.8" height="213.5"/></clipPath>
</defs>
<g clip-path="url(#clipE)"><g filter="url(#jetE)">
<rect x="292.2" y="434.7" width="218.8" height="217.5" fill="#030303"/>
<defs><linearGradient id="gE1" x1="0" x2="1" y1="0" y2="0"><stop offset="0" stop-color="#fff" stop-opacity="0"/><stop offset="0.05" stop-color="#fff" stop-opacity="0.095"/><stop offset="0.45" stop-color="#fff" stop-opacity="0.075"/><stop offset="0.75" stop-color="#fff" stop-opacity="0.03"/><stop offset="1" stop-color="#fff" stop-opacity="0.012"/></linearGradient><linearGradient id="gE2" x1="0" x2="1" y1="0" y2="0"><stop offset="0" stop-color="#fff" stop-opacity="0.3"/><stop offset="0.45" stop-color="#fff" stop-opacity="0.12"/><stop offset="0.75" stop-color="#fff" stop-opacity="0.045"/><stop offset="1" stop-color="#fff" stop-opacity="0.02"/></linearGradient><linearGradient id="gE3" gradientUnits="userSpaceOnUse" x1="297" x2="435" y1="0" y2="0"><stop offset="0" stop-color="#fff" stop-opacity="0.25"/><stop offset="0.3" stop-color="#fff" stop-opacity="0.2"/><stop offset="0.65" stop-color="#fff" stop-opacity="0.11"/><stop offset="1" stop-color="#fff" stop-opacity="0.0"/></linearGradient></defs>
<clipPath id="clE60"><rect x="290" y="490.6" width="225" height="170"/></clipPath>
<g clip-path="url(#clE60)"><ellipse cx="385" cy="560" rx="98" ry="95" fill="#fff" opacity="0.08" filter="url(#b8E)"/><ellipse cx="350" cy="545" rx="50" ry="70" fill="#fff" opacity="0.025" filter="url(#b8E)"/><ellipse cx="345" cy="600" rx="42" ry="60" fill="#fff" opacity="0.03" filter="url(#b8E)"/><ellipse cx="385" cy="528" rx="85" ry="30" fill="#fff" opacity="0.05" filter="url(#b8E)"/></g>
<rect x="330" y="527" width="180" height="7" fill="url(#gE2)" filter="url(#bhE)"/>
<rect x="390" y="493" width="125" height="36" fill="#fff" opacity="0.022" filter="url(#b2E)"/>
<path d="M298 491 L395 491 L402 568 L314 568 L308 540 L302 515 Z" fill="#fff" opacity="0.06" filter="url(#b2E)"/>
<path d="M297 491 L340 491 L392 513 L436 529 L396 546 L345 568 L314.5 568 L309 540 L303 515 Z" fill="url(#gE3)" filter="url(#b2E)"/>
<path d="M297.5 491 L318 491 L314 505 L320 530 L316 540 L320 568 L314.5 568 L309 540 L303 515 Z" fill="#fff" opacity="0.05" filter="url(#b1E)"/>
<rect x="298" y="491" width="36" height="6" fill="#fff" opacity="0.05" filter="url(#b1E)"/>
<ellipse cx="325" cy="531" rx="27" ry="19" fill="#fff" opacity="0.16" filter="url(#b4E)"/>
<ellipse cx="323" cy="531" rx="19" ry="12" fill="#fff" opacity="0.24" filter="url(#b2E)"/>
<ellipse cx="352" cy="530.5" rx="32" ry="3.5" fill="#fff" opacity="0.3" filter="url(#b2E)"/>
<path d="M311 540 L330 540 L324 568 L315.5 568 Z" fill="#fff" opacity="0.17" filter="url(#b2E)"/>
<ellipse cx="319.5" cy="564" rx="4" ry="3.8" fill="#fff" opacity="0.3" filter="url(#b1E)"/>
<path d="M306.5 530.5 L315 525 L321 519.5 L324.5 509 L328 519.5 L334 525 L343 530.5 L334 536 L328 542 L321 542 L315 536 Z" fill="#fff" opacity="0.93" filter="url(#b1E)"/>
<rect x="338" y="529.2" width="40" height="2.6" fill="#fff" opacity="0.7" filter="url(#b05E)"/>
<rect x="308" y="527.5" width="34" height="6" fill="#fff" opacity="0.8" filter="url(#b05E)"/>
<rect x="312" y="568" width="70" height="84" fill="#fff" opacity="0.03" filter="url(#b4E)"/>
<rect x="316" y="568" width="10" height="84" fill="#fff" opacity="0.07" filter="url(#b2E)"/>
<g filter="url(#b05E)"><g fill="#fff"><ellipse cx="411.7" cy="607.3" rx="0.7" ry="2.7" opacity="0.11"/><ellipse cx="348.6" cy="611.0" rx="0.8" ry="3.1" opacity="0.09"/><ellipse cx="334.0" cy="634.8" rx="0.8" ry="1.6" opacity="0.22"/><ellipse cx="349.5" cy="647.2" rx="0.8" ry="2.7" opacity="0.10"/><ellipse cx="372.2" cy="574.8" rx="0.6" ry="2.0" opacity="0.08"/><ellipse cx="341.2" cy="607.1" rx="0.7" ry="3.2" opacity="0.15"/><ellipse cx="317.0" cy="623.0" rx="0.7" ry="2.1" opacity="0.22"/><ellipse cx="312.6" cy="649.7" rx="0.8" ry="2.9" opacity="0.12"/><ellipse cx="340.9" cy="575.6" rx="0.8" ry="2.3" opacity="0.20"/><ellipse cx="360.9" cy="600.9" rx="0.9" ry="3.2" opacity="0.08"/><ellipse cx="353.4" cy="607.6" rx="0.9" ry="2.3" opacity="0.09"/><ellipse cx="397.5" cy="620.4" rx="0.8" ry="2.0" opacity="0.09"/><ellipse cx="393.4" cy="579.4" rx="0.6" ry="1.7" opacity="0.09"/><ellipse cx="400.7" cy="633.8" rx="0.6" ry="2.6" opacity="0.14"/><ellipse cx="354.5" cy="580.5" rx="0.8" ry="1.7" opacity="0.14"/><ellipse cx="380.3" cy="587.0" rx="0.6" ry="3.4" opacity="0.19"/><ellipse cx="318.6" cy="586.9" rx="0.7" ry="3.2" opacity="0.17"/><ellipse cx="392.9" cy="578.0" rx="0.9" ry="1.9" opacity="0.12"/><ellipse cx="341.6" cy="593.7" rx="0.5" ry="1.7" opacity="0.16"/><ellipse cx="313.2" cy="589.4" rx="0.7" ry="2.2" opacity="0.14"/><ellipse cx="369.1" cy="616.0" rx="0.8" ry="1.9" opacity="0.10"/><ellipse cx="329.8" cy="642.7" rx="0.8" ry="2.0" opacity="0.11"/><ellipse cx="333.6" cy="585.7" rx="0.9" ry="3.3" opacity="0.16"/><ellipse cx="356.4" cy="578.3" rx="0.5" ry="3.4" opacity="0.11"/><ellipse cx="331.9" cy="635.9" rx="0.7" ry="2.1" opacity="0.10"/><ellipse cx="317.3" cy="627.6" rx="0.5" ry="2.0" opacity="0.16"/><ellipse cx="361.2" cy="592.4" rx="0.9" ry="1.9" opacity="0.08"/><ellipse cx="339.6" cy="605.7" rx="0.5" ry="1.9" opacity="0.13"/><ellipse cx="324.6" cy="599.0" rx="0.9" ry="3.5" opacity="0.17"/><ellipse cx="331.5" cy="625.3" rx="0.7" ry="1.8" opacity="0.08"/><ellipse cx="399.1" cy="626.1" rx="0.9" ry="1.5" opacity="0.17"/><ellipse cx="344.9" cy="608.6" rx="0.8" ry="2.1" opacity="0.22"/><ellipse cx="369.3" cy="629.0" rx="0.9" ry="3.0" opacity="0.18"/><ellipse cx="354.0" cy="633.5" rx="0.9" ry="2.2" opacity="0.18"/><ellipse cx="384.0" cy="603.4" rx="0.8" ry="3.2" opacity="0.16"/><ellipse cx="378.7" cy="600.6" rx="0.7" ry="2.7" opacity="0.09"/><ellipse cx="406.8" cy="628.3" rx="0.7" ry="3.0" opacity="0.16"/><ellipse cx="358.5" cy="637.1" rx="0.5" ry="3.0" opacity="0.08"/><ellipse cx="312.2" cy="588.4" rx="0.8" ry="2.5" opacity="0.17"/><ellipse cx="318.9" cy="643.6" rx="0.6" ry="1.5" opacity="0.12"/><ellipse cx="329.8" cy="583.6" rx="0.9" ry="2.8" opacity="0.14"/><ellipse cx="321.0" cy="641.3" rx="0.6" ry="2.8" opacity="0.11"/><ellipse cx="410.6" cy="640.4" rx="0.7" ry="2.7" opacity="0.12"/><ellipse cx="359.3" cy="580.9" rx="0.7" ry="3.2" opacity="0.20"/><ellipse cx="321.5" cy="592.1" rx="0.6" ry="2.4" opacity="0.12"/><ellipse cx="333.5" cy="603.1" rx="0.8" ry="2.5" opacity="0.12"/><ellipse cx="380.2" cy="606.2" rx="0.5" ry="1.6" opacity="0.20"/><ellipse cx="314.6" cy="626.7" rx="0.7" ry="2.1" opacity="0.19"/><ellipse cx="353.0" cy="606.4" rx="0.5" ry="3.2" opacity="0.11"/><ellipse cx="339.8" cy="581.3" rx="0.5" ry="2.8" opacity="0.14"/><ellipse cx="310.0" cy="634.6" rx="0.9" ry="2.9" opacity="0.11"/><ellipse cx="362.3" cy="584.3" rx="0.5" ry="2.4" opacity="0.18"/><ellipse cx="347.6" cy="597.7" rx="0.8" ry="2.5" opacity="0.17"/><ellipse cx="358.1" cy="630.5" rx="0.7" ry="3.1" opacity="0.21"/><ellipse cx="393.5" cy="627.8" rx="0.6" ry="2.4" opacity="0.17"/><ellipse cx="371.9" cy="642.8" rx="0.7" ry="2.6" opacity="0.20"/><ellipse cx="357.5" cy="607.1" rx="0.8" ry="1.9" opacity="0.18"/><ellipse cx="400.0" cy="621.3" rx="0.8" ry="1.9" opacity="0.21"/><ellipse cx="414.5" cy="613.0" rx="0.8" ry="2.1" opacity="0.21"/><ellipse cx="328.6" cy="638.5" rx="0.6" ry="1.7" opacity="0.14"/><ellipse cx="363.6" cy="572.3" rx="0.8" ry="1.6" opacity="0.19"/><ellipse cx="323.1" cy="583.8" rx="0.6" ry="3.1" opacity="0.10"/><ellipse cx="358.1" cy="627.9" rx="0.8" ry="2.9" opacity="0.21"/><ellipse cx="365.1" cy="609.4" rx="0.9" ry="1.7" opacity="0.11"/><ellipse cx="315.1" cy="628.3" rx="0.8" ry="2.5" opacity="0.20"/><ellipse cx="334.1" cy="614.8" rx="0.6" ry="2.3" opacity="0.20"/><ellipse cx="353.5" cy="638.1" rx="0.9" ry="2.5" opacity="0.16"/><ellipse cx="326.8" cy="586.1" rx="0.7" ry="2.5" opacity="0.16"/><ellipse cx="410.8" cy="611.3" rx="0.7" ry="3.1" opacity="0.16"/><ellipse cx="350.8" cy="609.3" rx="0.8" ry="1.6" opacity="0.16"/><ellipse cx="411.6" cy="591.5" rx="0.7" ry="1.8" opacity="0.14"/><ellipse cx="374.2" cy="635.3" rx="0.9" ry="2.5" opacity="0.12"/><ellipse cx="352.0" cy="644.0" rx="0.6" ry="3.1" opacity="0.08"/><ellipse cx="374.2" cy="585.5" rx="0.6" ry="2.9" opacity="0.13"/><ellipse cx="314.1" cy="578.4" rx="0.8" ry="1.7" opacity="0.15"/><ellipse cx="368.7" cy="590.0" rx="0.6" ry="2.6" opacity="0.14"/><ellipse cx="317.5" cy="612.3" rx="0.6" ry="1.9" opacity="0.17"/><ellipse cx="358.4" cy="621.1" rx="0.7" ry="3.2" opacity="0.17"/><ellipse cx="350.7" cy="629.3" rx="0.8" ry="3.3" opacity="0.12"/><ellipse cx="322.0" cy="595.2" rx="0.9" ry="1.9" opacity="0.22"/><ellipse cx="349.4" cy="589.1" rx="0.8" ry="2.0" opacity="0.09"/><ellipse cx="328.3" cy="636.6" rx="0.7" ry="3.1" opacity="0.10"/><ellipse cx="312.0" cy="586.1" rx="0.8" ry="3.3" opacity="0.22"/><ellipse cx="362.4" cy="579.2" rx="0.7" ry="3.0" opacity="0.15"/><ellipse cx="330.9" cy="575.6" rx="0.5" ry="1.6" opacity="0.16"/><ellipse cx="321.3" cy="611.2" rx="0.7" ry="1.8" opacity="0.11"/><ellipse cx="353.3" cy="649.2" rx="0.9" ry="1.7" opacity="0.09"/><ellipse cx="389.4" cy="646.1" rx="0.7" ry="3.0" opacity="0.13"/><ellipse cx="357.3" cy="618.1" rx="0.5" ry="2.9" opacity="0.20"/><ellipse cx="344.9" cy="584.5" rx="0.7" ry="3.0" opacity="0.14"/><ellipse cx="343.7" cy="611.0" rx="0.5" ry="3.3" opacity="0.19"/><ellipse cx="353.8" cy="626.4" rx="0.8" ry="2.8" opacity="0.14"/><ellipse cx="311.1" cy="648.6" rx="0.8" ry="2.0" opacity="0.21"/><ellipse cx="318.6" cy="629.6" rx="0.8" ry="3.1" opacity="0.14"/><ellipse cx="383.9" cy="625.6" rx="0.8" ry="3.0" opacity="0.14"/><ellipse cx="389.5" cy="575.6" rx="0.6" ry="2.4" opacity="0.08"/><ellipse cx="313.4" cy="619.9" rx="0.6" ry="3.4" opacity="0.17"/><ellipse cx="369.5" cy="597.0" rx="0.8" ry="2.6" opacity="0.15"/><ellipse cx="380.6" cy="626.1" rx="0.8" ry="3.5" opacity="0.08"/><ellipse cx="414.3" cy="619.2" rx="0.8" ry="2.0" opacity="0.14"/><ellipse cx="355.5" cy="600.1" rx="0.5" ry="2.0" opacity="0.21"/><ellipse cx="343.8" cy="614.0" rx="0.7" ry="3.4" opacity="0.16"/><ellipse cx="377.9" cy="634.8" rx="0.5" ry="2.7" opacity="0.19"/><ellipse cx="336.8" cy="573.6" rx="0.9" ry="1.8" opacity="0.15"/><ellipse cx="353.9" cy="618.9" rx="0.5" ry="3.4" opacity="0.14"/><ellipse cx="366.6" cy="612.1" rx="0.7" ry="2.2" opacity="0.12"/><ellipse cx="317.8" cy="592.7" rx="0.8" ry="2.1" opacity="0.08"/><ellipse cx="337.0" cy="573.4" rx="0.6" ry="3.0" opacity="0.13"/><ellipse cx="375.2" cy="574.0" rx="0.9" ry="3.4" opacity="0.09"/><ellipse cx="310.1" cy="642.4" rx="0.7" ry="2.5" opacity="0.22"/><ellipse cx="339.3" cy="645.0" rx="0.8" ry="2.4" opacity="0.22"/><ellipse cx="372.1" cy="635.3" rx="0.7" ry="1.7" opacity="0.17"/><ellipse cx="319.8" cy="574.2" rx="0.7" ry="1.7" opacity="0.14"/><ellipse cx="343.2" cy="623.4" rx="0.7" ry="2.0" opacity="0.16"/><ellipse cx="368.4" cy="649.8" rx="0.9" ry="3.0" opacity="0.11"/><ellipse cx="361.5" cy="579.1" rx="0.9" ry="3.1" opacity="0.17"/><ellipse cx="323.9" cy="624.8" rx="0.7" ry="2.7" opacity="0.17"/><ellipse cx="355.2" cy="630.3" rx="0.6" ry="2.0" opacity="0.22"/><ellipse cx="387.6" cy="573.2" rx="0.5" ry="2.0" opacity="0.14"/><ellipse cx="378.6" cy="578.2" rx="0.7" ry="1.6" opacity="0.09"/><ellipse cx="322.2" cy="620.5" rx="0.6" ry="2.5" opacity="0.11"/><ellipse cx="347.8" cy="629.6" rx="0.8" ry="1.6" opacity="0.10"/><ellipse cx="352.2" cy="631.5" rx="0.6" ry="2.3" opacity="0.12"/><ellipse cx="399.1" cy="599.5" rx="0.8" ry="3.5" opacity="0.13"/><ellipse cx="411.3" cy="604.2" rx="0.6" ry="1.7" opacity="0.20"/><ellipse cx="324.1" cy="576.3" rx="0.5" ry="2.6" opacity="0.15"/><ellipse cx="328.7" cy="632.0" rx="0.5" ry="1.9" opacity="0.17"/><ellipse cx="316.3" cy="576.5" rx="0.6" ry="2.9" opacity="0.18"/><ellipse cx="334.8" cy="598.6" rx="0.8" ry="2.2" opacity="0.10"/><ellipse cx="353.2" cy="626.7" rx="0.7" ry="3.3" opacity="0.21"/><ellipse cx="363.7" cy="634.2" rx="0.6" ry="2.1" opacity="0.14"/><ellipse cx="322.4" cy="644.8" rx="0.9" ry="2.0" opacity="0.13"/><ellipse cx="320.3" cy="601.6" rx="0.7" ry="1.9" opacity="0.16"/><ellipse cx="357.9" cy="633.8" rx="0.7" ry="3.2" opacity="0.16"/><ellipse cx="359.0" cy="640.5" rx="0.6" ry="1.5" opacity="0.15"/><ellipse cx="380.3" cy="613.5" rx="0.7" ry="3.4" opacity="0.17"/><ellipse cx="341.4" cy="613.7" rx="0.8" ry="1.7" opacity="0.09"/><ellipse cx="328.4" cy="629.0" rx="0.9" ry="1.7" opacity="0.17"/><ellipse cx="366.7" cy="621.9" rx="0.6" ry="1.9" opacity="0.19"/><ellipse cx="374.4" cy="611.7" rx="0.8" ry="2.3" opacity="0.13"/><ellipse cx="379.0" cy="609.5" rx="0.7" ry="2.9" opacity="0.18"/><ellipse cx="329.7" cy="643.2" rx="0.7" ry="3.2" opacity="0.17"/><ellipse cx="368.7" cy="636.7" rx="0.9" ry="3.4" opacity="0.17"/><ellipse cx="367.6" cy="626.8" rx="0.8" ry="2.3" opacity="0.14"/><ellipse cx="365.9" cy="649.3" rx="0.7" ry="1.8" opacity="0.11"/><ellipse cx="374.6" cy="604.0" rx="0.6" ry="3.4" opacity="0.09"/><ellipse cx="333.0" cy="621.8" rx="0.8" ry="1.9" opacity="0.09"/><ellipse cx="350.9" cy="606.7" rx="0.7" ry="3.3" opacity="0.09"/><ellipse cx="351.9" cy="587.4" rx="0.6" ry="2.9" opacity="0.16"/><ellipse cx="349.3" cy="587.9" rx="0.6" ry="2.1" opacity="0.10"/><ellipse cx="339.1" cy="613.9" rx="0.8" ry="2.5" opacity="0.12"/><ellipse cx="313.8" cy="641.0" rx="0.9" ry="2.2" opacity="0.16"/><ellipse cx="369.0" cy="587.7" rx="0.5" ry="3.4" opacity="0.19"/><ellipse cx="329.4" cy="600.8" rx="0.7" ry="2.5" opacity="0.12"/><ellipse cx="378.9" cy="589.0" rx="0.5" ry="2.4" opacity="0.13"/><ellipse cx="335.5" cy="633.7" rx="0.8" ry="2.7" opacity="0.10"/><ellipse cx="351.6" cy="590.8" rx="0.8" ry="2.5" opacity="0.17"/><ellipse cx="358.6" cy="649.4" rx="0.6" ry="2.6" opacity="0.10"/><ellipse cx="338.2" cy="635.7" rx="0.8" ry="3.1" opacity="0.09"/><ellipse cx="336.5" cy="591.6" rx="0.8" ry="1.7" opacity="0.15"/><ellipse cx="374.5" cy="638.6" rx="0.6" ry="3.1" opacity="0.14"/><ellipse cx="351.7" cy="643.3" rx="0.5" ry="3.2" opacity="0.11"/><ellipse cx="327.3" cy="636.6" rx="0.6" ry="2.1" opacity="0.09"/><ellipse cx="328.8" cy="594.5" rx="0.7" ry="2.9" opacity="0.13"/><ellipse cx="332.9" cy="601.5" rx="0.7" ry="3.4" opacity="0.20"/><ellipse cx="325.8" cy="622.3" rx="0.5" ry="2.3" opacity="0.18"/><ellipse cx="340.8" cy="606.6" rx="0.5" ry="3.5" opacity="0.19"/><ellipse cx="374.0" cy="586.5" rx="0.7" ry="2.1" opacity="0.13"/><ellipse cx="315.2" cy="597.0" rx="0.7" ry="2.8" opacity="0.12"/><ellipse cx="332.2" cy="586.0" rx="0.8" ry="2.2" opacity="0.21"/></g>
<g fill="#fff"><ellipse cx="397.3" cy="631.1" rx="0.6" ry="1.4" opacity="0.22"/><ellipse cx="348.2" cy="645.8" rx="0.9" ry="1.7" opacity="0.29"/><ellipse cx="329.6" cy="637.7" rx="0.7" ry="2.1" opacity="0.16"/><ellipse cx="323.4" cy="646.0" rx="0.6" ry="1.8" opacity="0.23"/><ellipse cx="314.4" cy="629.3" rx="1.0" ry="1.6" opacity="0.17"/><ellipse cx="378.0" cy="649.7" rx="1.0" ry="1.1" opacity="0.26"/><ellipse cx="360.0" cy="641.7" rx="0.7" ry="1.8" opacity="0.16"/><ellipse cx="362.7" cy="631.8" rx="0.9" ry="1.5" opacity="0.25"/><ellipse cx="361.2" cy="628.7" rx="0.9" ry="2.2" opacity="0.39"/><ellipse cx="317.4" cy="642.6" rx="0.7" ry="1.4" opacity="0.32"/><ellipse cx="332.1" cy="633.2" rx="0.7" ry="1.6" opacity="0.35"/><ellipse cx="324.7" cy="639.0" rx="0.6" ry="2.0" opacity="0.26"/><ellipse cx="315.4" cy="637.4" rx="0.8" ry="1.9" opacity="0.18"/><ellipse cx="337.0" cy="640.1" rx="0.7" ry="1.8" opacity="0.16"/><ellipse cx="334.7" cy="642.0" rx="0.6" ry="1.6" opacity="0.20"/><ellipse cx="371.7" cy="634.2" rx="0.8" ry="2.2" opacity="0.27"/><ellipse cx="360.4" cy="648.3" rx="0.7" ry="1.2" opacity="0.34"/><ellipse cx="334.2" cy="648.1" rx="0.6" ry="1.3" opacity="0.34"/><ellipse cx="325.8" cy="628.2" rx="0.6" ry="1.7" opacity="0.40"/><ellipse cx="361.8" cy="650.0" rx="0.8" ry="1.0" opacity="0.23"/><ellipse cx="355.4" cy="642.1" rx="0.7" ry="1.6" opacity="0.27"/><ellipse cx="392.3" cy="633.8" rx="1.0" ry="2.1" opacity="0.19"/><ellipse cx="321.7" cy="634.1" rx="1.0" ry="1.6" opacity="0.32"/><ellipse cx="408.7" cy="643.5" rx="0.7" ry="1.3" opacity="0.21"/><ellipse cx="318.1" cy="630.9" rx="1.0" ry="1.5" opacity="0.21"/><ellipse cx="367.7" cy="649.5" rx="0.8" ry="1.7" opacity="0.38"/><ellipse cx="397.5" cy="637.2" rx="0.8" ry="2.1" opacity="0.35"/><ellipse cx="326.0" cy="640.8" rx="0.7" ry="1.4" opacity="0.33"/><ellipse cx="334.0" cy="643.6" rx="1.0" ry="2.0" opacity="0.37"/><ellipse cx="337.5" cy="648.0" rx="0.8" ry="1.9" opacity="0.24"/><ellipse cx="366.6" cy="634.9" rx="1.0" ry="1.8" opacity="0.29"/><ellipse cx="358.9" cy="641.7" rx="0.6" ry="1.6" opacity="0.33"/><ellipse cx="319.3" cy="637.0" rx="0.7" ry="1.8" opacity="0.19"/><ellipse cx="356.2" cy="630.0" rx="0.7" ry="1.8" opacity="0.34"/><ellipse cx="358.8" cy="628.7" rx="0.8" ry="1.5" opacity="0.19"/><ellipse cx="397.4" cy="635.5" rx="0.7" ry="1.4" opacity="0.39"/><ellipse cx="373.0" cy="634.2" rx="0.7" ry="1.5" opacity="0.21"/><ellipse cx="341.6" cy="648.2" rx="0.8" ry="1.8" opacity="0.19"/><ellipse cx="419.9" cy="633.5" rx="0.8" ry="2.0" opacity="0.36"/><ellipse cx="350.5" cy="633.0" rx="0.8" ry="1.9" opacity="0.25"/><ellipse cx="316.1" cy="649.4" rx="0.8" ry="1.8" opacity="0.24"/><ellipse cx="405.7" cy="635.1" rx="0.8" ry="1.4" opacity="0.23"/><ellipse cx="356.4" cy="640.0" rx="0.7" ry="1.1" opacity="0.35"/><ellipse cx="358.9" cy="634.3" rx="1.0" ry="1.7" opacity="0.25"/><ellipse cx="392.2" cy="635.1" rx="0.7" ry="1.8" opacity="0.36"/></g>
<g fill="#fff"><ellipse cx="317.6" cy="637.4" rx="1.0" ry="2.8" opacity="0.46"/><ellipse cx="317.3" cy="615.9" rx="0.8" ry="2.6" opacity="0.44"/><ellipse cx="320.3" cy="618.6" rx="0.8" ry="2.1" opacity="0.65"/><ellipse cx="321.1" cy="610.6" rx="0.8" ry="1.7" opacity="0.66"/><ellipse cx="323.1" cy="642.2" rx="1.0" ry="2.6" opacity="0.68"/><ellipse cx="322.9" cy="620.3" rx="1.0" ry="2.2" opacity="0.63"/><ellipse cx="320.6" cy="627.2" rx="0.8" ry="2.1" opacity="0.49"/><ellipse cx="316.2" cy="642.8" rx="1.0" ry="3.0" opacity="0.61"/><ellipse cx="320.5" cy="639.9" rx="0.8" ry="2.5" opacity="0.53"/><ellipse cx="316.8" cy="618.1" rx="0.9" ry="1.9" opacity="0.54"/></g>
</g>
<g filter="url(#b05E)"><g fill="#fff"><ellipse cx="299.5" cy="618.8" rx="0.6" ry="2.9" opacity="0.08"/><ellipse cx="300.3" cy="622.1" rx="0.6" ry="2.0" opacity="0.11"/><ellipse cx="301.0" cy="626.6" rx="0.5" ry="1.8" opacity="0.13"/><ellipse cx="300.8" cy="572.3" rx="0.7" ry="2.4" opacity="0.07"/><ellipse cx="301.8" cy="614.7" rx="0.5" ry="2.5" opacity="0.07"/><ellipse cx="300.7" cy="553.7" rx="0.5" ry="3.0" opacity="0.09"/><ellipse cx="304.0" cy="591.1" rx="0.6" ry="2.8" opacity="0.11"/><ellipse cx="299.6" cy="606.9" rx="0.6" ry="1.8" opacity="0.07"/><ellipse cx="303.4" cy="598.9" rx="0.5" ry="2.2" opacity="0.08"/><ellipse cx="303.0" cy="597.6" rx="0.5" ry="2.7" opacity="0.07"/><ellipse cx="300.4" cy="547.9" rx="0.6" ry="1.7" opacity="0.10"/><ellipse cx="299.5" cy="595.4" rx="0.6" ry="2.3" opacity="0.10"/><ellipse cx="301.4" cy="590.9" rx="0.6" ry="1.6" opacity="0.10"/><ellipse cx="300.2" cy="635.9" rx="0.7" ry="1.6" opacity="0.07"/></g>
</g>
</g></g>
<rect x="294.5" y="437.0" width="214.2" height="213.2" fill="none" stroke="#00002c" stroke-width="1"/>
<text class="ss" x="291.59999999999997" y="653.7" font-size="13.5" fill="#111" text-anchor="end">0</text>
<text class="ss" x="291.59999999999997" y="601.62" font-size="13.5" fill="#111" text-anchor="end">20</text>
<text class="ss" x="291.59999999999997" y="548.24" font-size="13.5" fill="#111" text-anchor="end">40</text>
<text class="ss" x="291.59999999999997" y="494.86000000000007" font-size="13.5" fill="#111" text-anchor="end">60</text>
<text class="ss" x="291.59999999999997" y="441.4800000000001" font-size="13.5" fill="#111" text-anchor="end">80</text>
<text class="ss" x="294.2" y="665.3" font-size="13.5" fill="#111" text-anchor="middle">0</text>
<text class="ss" x="351.4" y="665.3" font-size="13.5" fill="#111" text-anchor="middle">2</text>
<text class="ss" x="408.6" y="665.3" font-size="13.5" fill="#111" text-anchor="middle">4</text>
<text class="ss" x="465.8" y="665.3" font-size="13.5" fill="#111" text-anchor="middle">6</text>
<text x="369.5" y="687" font-size="19" fill="#111"><tspan class="ss">|<tspan font-style="italic">Q</tspan>| </tspan><tspan class="sf" font-size="19.5">(Å</tspan><tspan class="sf" font-size="12" dy="-7">-1</tspan><tspan class="sf" font-size="19.5" dy="7">)</tspan></text>
<text class="ss" transform="translate(273.9,543) rotate(-90)" text-anchor="middle" font-size="19" fill="#111"><tspan font-style="italic">E</tspan> (meV)</text>
<text class="ss" x="405.1" y="459.5" font-size="17.5" fill="#e4ebff" text-anchor="middle">SpinW calculation</text>
<text class="ss" transform="translate(257.5,422.2) scale(1.06,1)" font-size="21.7" fill="#111">(e)</text>
<text class="ss" x="328.8" y="405.6" font-size="16.2" fill="#111"><tspan font-style="italic">SJ</tspan><tspan font-size="9" dy="4.5">2</tspan><tspan dy="-4.5" dx="4"> = 3.0, </tspan><tspan font-style="italic">SJ</tspan><tspan font-size="9" dy="4.5">3</tspan><tspan dy="-4.5" dx="4"> = 1.7,</tspan></text>
<text class="ss" x="330.3" y="426.7" font-size="16.2" fill="#111"><tspan font-style="italic">SJ</tspan><tspan font-size="9.5" dy="3.5">⊥</tspan><tspan dy="-3.5"> = 57.5 meV</tspan></text>
</g>
<g id="pg">
<defs>
<filter id="jetG" filterUnits="userSpaceOnUse" x="770.6" y="436.7" width="215.0" height="213.5" color-interpolation-filters="sRGB">
<feTurbulence type="fractalNoise" baseFrequency="0.45 0.13" numOctaves="2" seed="9" result="n0"/>
<feColorMatrix in="n0" type="matrix" values="2.2 0 0 0 -0.6  2.2 0 0 0 -0.6  2.2 0 0 0 -0.6  0 0 0 0 1" result="n"/>
<feComposite in="SourceGraphic" in2="SourceGraphic" operator="arithmetic" k1="1" k2="0" k3="0" k4="0" result="sq"/>
<feComposite in="sq" in2="SourceGraphic" operator="arithmetic" k1="-1" k2="1" k3="0" k4="0" result="u"/>
<feComposite in="SourceGraphic" in2="u" operator="arithmetic" k1="0" k2="1" k3="-1.7" k4="0" result="bs"/>
<feComposite in="u" in2="n" operator="arithmetic" k1="3.4" k2="0" k3="0" k4="0" result="t"/>
<feComposite in="bs" in2="t" operator="arithmetic" k1="0" k2="1" k3="1" k4="0" result="m"/>
<feComponentTransfer in="m"><feFuncR type="table" tableValues="0 0 0 0 0.5 1 1 1 0.5"/><feFuncG type="table" tableValues="0 0 0.5 1 1 1 0.5 0 0"/><feFuncB type="table" tableValues="0.5 1 1 1 0.5 0 0 0 0"/><feFuncA type="linear" slope="0" intercept="1"/></feComponentTransfer>
</filter>
<filter id="b8G" x="-40%" y="-40%" width="180%" height="180%"><feGaussianBlur stdDeviation="9"/></filter>
<filter id="b4G" x="-30%" y="-30%" width="160%" height="160%"><feGaussianBlur stdDeviation="4"/></filter>
<filter id="b2G" x="-30%" y="-30%" width="160%" height="160%"><feGaussianBlur stdDeviation="2"/></filter>
<filter id="b1G" x="-30%" y="-30%" width="160%" height="160%"><feGaussianBlur stdDeviation="1"/></filter>
<filter id="b05G" x="-30%" y="-30%" width="160%" height="160%"><feGaussianBlur stdDeviation="0.5"/></filter>
<filter id="bhG" x="-30%" y="-100%" width="160%" height="300%"><feGaussianBlur stdDeviation="6 1.6"/></filter>
<clipPath id="clipG"><rect x="770.6" y="436.7" width="215.0" height="213.5"/></clipPath>
</defs>
<g clip-path="url(#clipG)"><g filter="url(#jetG)">
<rect x="768.6" y="434.7" width="219.0" height="217.5" fill="#030303"/>
<defs><linearGradient id="gG1" x1="0" x2="1" y1="0" y2="0"><stop offset="0" stop-color="#fff" stop-opacity="0"/><stop offset="0.04" stop-color="#fff" stop-opacity="0.10"/><stop offset="0.5" stop-color="#fff" stop-opacity="0.08"/><stop offset="0.78" stop-color="#fff" stop-opacity="0.03"/><stop offset="1" stop-color="#fff" stop-opacity="0.012"/></linearGradient><linearGradient id="gG2" x1="0" x2="1" y1="0" y2="0"><stop offset="0" stop-color="#fff" stop-opacity="0.32"/><stop offset="0.45" stop-color="#fff" stop-opacity="0.13"/><stop offset="0.75" stop-color="#fff" stop-opacity="0.05"/><stop offset="1" stop-color="#fff" stop-opacity="0.02"/></linearGradient><linearGradient id="gG3" gradientUnits="userSpaceOnUse" x1="773.4000000000001" x2="916.4000000000001" y1="0" y2="0"><stop offset="0" stop-color="#fff" stop-opacity="0.25"/><stop offset="0.3" stop-color="#fff" stop-opacity="0.2"/><stop offset="0.6" stop-color="#fff" stop-opacity="0.11"/><stop offset="1" stop-color="#fff" stop-opacity="0"/></linearGradient></defs>
<clipPath id="clG60"><rect x="766.4000000000001" y="490.4" width="225" height="170"/></clipPath>
<g clip-path="url(#clG60)"><ellipse cx="864.4000000000001" cy="565" rx="100" ry="100" fill="#fff" opacity="0.08" filter="url(#b8G)"/><ellipse cx="826.4000000000001" cy="545" rx="50" ry="75" fill="#fff" opacity="0.025" filter="url(#b8G)"/><ellipse cx="826.4000000000001" cy="600" rx="55" ry="70" fill="#fff" opacity="0.04" filter="url(#b8G)"/><ellipse cx="861.4000000000001" cy="528" rx="85" ry="30" fill="#fff" opacity="0.05" filter="url(#b8G)"/></g>
<rect x="806.4000000000001" y="527" width="180" height="7" fill="url(#gG2)" filter="url(#bhG)"/>
<rect x="846.4000000000001" y="491" width="145" height="40" fill="#fff" opacity="0.045" filter="url(#b1G)"/>
<path d="M773.4000000000001 490.5 L916.4000000000001 490.5 L901.4000000000001 650.5 L794.4000000000001 650.5 L786.4000000000001 560 L779.4000000000001 520 Z" fill="url(#gG3)" filter="url(#b2G)"/>
<path d="M774.4000000000001 490.5 L824.4000000000001 490.5 L828.4000000000001 560 L824.4000000000001 650.5 L794.4000000000001 650.5 L787.4000000000001 560 L780.4000000000001 520 Z" fill="#fff" opacity="0.045" filter="url(#b2G)"/>
<path d="M777.4000000000001 491 L812.4000000000001 491 L809.4000000000001 520 L810.4000000000001 560 L806.4000000000001 650 L795.4000000000001 650 L790.4000000000001 575 L784.4000000000001 530 Z" fill="#fff" opacity="0.03" filter="url(#b2G)"/>
<ellipse cx="800.4000000000001" cy="531" rx="27" ry="19" fill="#fff" opacity="0.18" filter="url(#b4G)"/>
<ellipse cx="798.4000000000001" cy="531" rx="20" ry="12" fill="#fff" opacity="0.26" filter="url(#b2G)"/>
<ellipse cx="828.4000000000001" cy="530.5" rx="32" ry="3.5" fill="#fff" opacity="0.4" filter="url(#b2G)"/>
<path d="M780.4000000000001 530.5 L790.4000000000001 525 L797.4000000000001 519 L800.4000000000001 512 L804.4000000000001 519 L811.4000000000001 525 L823.4000000000001 530.5 L811.4000000000001 536 L804.4000000000001 543 L797.4000000000001 543 L790.4000000000001 536 Z" fill="#fff" opacity="0.93" filter="url(#b1G)"/>
<rect x="782.4000000000001" y="527.5" width="39" height="6" fill="#fff" opacity="0.8" filter="url(#b05G)"/>
<ellipse cx="836.4000000000001" cy="530" rx="6" ry="1.6" fill="#fff" opacity="0.6" filter="url(#b05G)"/><ellipse cx="850.9000000000001" cy="530.5" rx="2.2" ry="2" fill="#fff" opacity="0.7" filter="url(#b05G)"/>
<path d="M790.4000000000001 540 L806.4000000000001 540 L800.4000000000001 600 L794.4000000000001 600 Z" fill="#fff" opacity="0.1" filter="url(#b2G)"/>
<g filter="url(#b05G)"><g fill="#fff"><ellipse cx="791.7" cy="626.7" rx="0.9" ry="2.0" opacity="0.20"/><ellipse cx="804.3" cy="635.6" rx="0.8" ry="2.0" opacity="0.21"/><ellipse cx="788.5" cy="602.8" rx="0.8" ry="1.3" opacity="0.35"/><ellipse cx="793.0" cy="592.5" rx="0.6" ry="2.8" opacity="0.33"/><ellipse cx="805.9" cy="621.2" rx="0.6" ry="1.7" opacity="0.27"/><ellipse cx="790.7" cy="646.4" rx="0.7" ry="1.4" opacity="0.35"/><ellipse cx="790.9" cy="644.6" rx="0.8" ry="2.1" opacity="0.24"/><ellipse cx="798.1" cy="589.0" rx="0.6" ry="2.6" opacity="0.21"/><ellipse cx="804.0" cy="590.6" rx="1.0" ry="2.6" opacity="0.34"/><ellipse cx="803.7" cy="618.6" rx="0.9" ry="1.4" opacity="0.27"/><ellipse cx="804.9" cy="590.1" rx="1.0" ry="2.6" opacity="0.25"/><ellipse cx="795.7" cy="608.8" rx="0.8" ry="2.8" opacity="0.25"/><ellipse cx="788.9" cy="582.0" rx="0.9" ry="2.8" opacity="0.27"/><ellipse cx="798.2" cy="616.3" rx="0.9" ry="1.6" opacity="0.30"/><ellipse cx="799.5" cy="621.7" rx="0.7" ry="1.5" opacity="0.24"/><ellipse cx="806.9" cy="601.0" rx="0.8" ry="1.7" opacity="0.18"/><ellipse cx="789.7" cy="636.0" rx="0.9" ry="1.8" opacity="0.32"/><ellipse cx="801.9" cy="642.4" rx="1.0" ry="1.9" opacity="0.40"/><ellipse cx="807.6" cy="619.3" rx="1.0" ry="2.0" opacity="0.24"/><ellipse cx="793.3" cy="640.7" rx="0.7" ry="1.3" opacity="0.35"/><ellipse cx="803.9" cy="611.2" rx="0.9" ry="1.3" opacity="0.21"/><ellipse cx="794.2" cy="606.5" rx="0.7" ry="1.3" opacity="0.23"/><ellipse cx="806.4" cy="648.8" rx="0.9" ry="2.0" opacity="0.21"/><ellipse cx="807.6" cy="614.4" rx="0.9" ry="1.2" opacity="0.20"/><ellipse cx="805.2" cy="634.6" rx="1.0" ry="2.2" opacity="0.26"/><ellipse cx="800.0" cy="638.7" rx="0.7" ry="2.1" opacity="0.22"/><ellipse cx="803.8" cy="575.8" rx="0.9" ry="2.7" opacity="0.16"/><ellipse cx="800.3" cy="623.3" rx="0.9" ry="2.1" opacity="0.21"/><ellipse cx="796.5" cy="646.9" rx="1.0" ry="1.4" opacity="0.17"/><ellipse cx="790.3" cy="576.9" rx="0.8" ry="1.4" opacity="0.37"/><ellipse cx="801.5" cy="584.5" rx="0.8" ry="1.7" opacity="0.27"/><ellipse cx="792.8" cy="587.5" rx="0.7" ry="1.8" opacity="0.33"/><ellipse cx="799.4" cy="578.5" rx="0.9" ry="2.6" opacity="0.34"/><ellipse cx="804.2" cy="575.6" rx="0.8" ry="1.3" opacity="0.34"/><ellipse cx="791.9" cy="628.4" rx="0.7" ry="2.3" opacity="0.23"/><ellipse cx="789.2" cy="604.2" rx="0.7" ry="2.6" opacity="0.22"/><ellipse cx="798.5" cy="616.2" rx="1.0" ry="1.4" opacity="0.30"/><ellipse cx="798.6" cy="630.1" rx="1.0" ry="1.7" opacity="0.32"/><ellipse cx="798.9" cy="617.1" rx="0.6" ry="2.5" opacity="0.39"/><ellipse cx="795.5" cy="598.9" rx="1.0" ry="1.4" opacity="0.17"/><ellipse cx="789.9" cy="636.1" rx="0.9" ry="1.9" opacity="0.31"/><ellipse cx="788.8" cy="623.3" rx="0.8" ry="2.0" opacity="0.25"/><ellipse cx="796.4" cy="591.9" rx="0.6" ry="1.9" opacity="0.21"/><ellipse cx="802.5" cy="636.3" rx="0.9" ry="1.9" opacity="0.21"/><ellipse cx="796.1" cy="611.5" rx="0.9" ry="2.7" opacity="0.17"/><ellipse cx="798.0" cy="611.9" rx="0.9" ry="2.6" opacity="0.34"/><ellipse cx="800.9" cy="631.9" rx="0.9" ry="2.6" opacity="0.32"/><ellipse cx="802.1" cy="593.4" rx="1.0" ry="1.8" opacity="0.30"/><ellipse cx="804.9" cy="647.3" rx="1.0" ry="1.2" opacity="0.23"/><ellipse cx="794.6" cy="604.3" rx="0.7" ry="2.1" opacity="0.17"/></g>
<g fill="#fff"><ellipse cx="843.4" cy="591.4" rx="1.0" ry="1.3" opacity="0.18"/><ellipse cx="821.8" cy="629.1" rx="0.7" ry="2.4" opacity="0.21"/><ellipse cx="853.6" cy="626.1" rx="1.0" ry="2.1" opacity="0.38"/><ellipse cx="819.3" cy="632.5" rx="0.6" ry="2.4" opacity="0.30"/><ellipse cx="818.7" cy="641.0" rx="0.8" ry="2.5" opacity="0.34"/><ellipse cx="845.7" cy="647.7" rx="0.8" ry="2.1" opacity="0.30"/><ellipse cx="822.2" cy="608.7" rx="0.9" ry="2.5" opacity="0.31"/><ellipse cx="805.2" cy="639.5" rx="0.9" ry="1.3" opacity="0.16"/><ellipse cx="818.4" cy="645.5" rx="0.8" ry="1.8" opacity="0.25"/><ellipse cx="824.8" cy="629.7" rx="1.0" ry="1.5" opacity="0.24"/><ellipse cx="803.1" cy="625.7" rx="0.8" ry="1.7" opacity="0.32"/><ellipse cx="813.1" cy="621.7" rx="0.6" ry="2.6" opacity="0.24"/><ellipse cx="796.8" cy="645.8" rx="1.0" ry="1.8" opacity="0.25"/><ellipse cx="839.9" cy="595.8" rx="1.0" ry="1.3" opacity="0.29"/><ellipse cx="809.7" cy="611.4" rx="0.7" ry="1.1" opacity="0.28"/><ellipse cx="849.6" cy="637.8" rx="0.9" ry="1.3" opacity="0.32"/><ellipse cx="857.6" cy="639.7" rx="1.0" ry="1.7" opacity="0.36"/><ellipse cx="837.0" cy="619.9" rx="0.8" ry="1.9" opacity="0.40"/><ellipse cx="825.0" cy="633.6" rx="0.9" ry="1.6" opacity="0.35"/><ellipse cx="790.2" cy="639.2" rx="0.8" ry="2.5" opacity="0.15"/><ellipse cx="828.6" cy="600.3" rx="0.9" ry="1.7" opacity="0.22"/><ellipse cx="826.4" cy="592.5" rx="1.0" ry="1.6" opacity="0.18"/><ellipse cx="831.6" cy="642.0" rx="0.7" ry="1.4" opacity="0.17"/><ellipse cx="850.4" cy="618.2" rx="0.7" ry="1.6" opacity="0.33"/><ellipse cx="880.5" cy="592.3" rx="0.8" ry="2.4" opacity="0.16"/><ellipse cx="798.9" cy="602.2" rx="0.8" ry="1.6" opacity="0.34"/><ellipse cx="819.3" cy="604.9" rx="0.7" ry="1.4" opacity="0.17"/><ellipse cx="791.4" cy="629.9" rx="0.7" ry="2.4" opacity="0.31"/><ellipse cx="861.6" cy="626.2" rx="0.6" ry="1.8" opacity="0.16"/><ellipse cx="839.5" cy="636.0" rx="0.6" ry="2.0" opacity="0.40"/><ellipse cx="839.7" cy="622.1" rx="0.7" ry="1.5" opacity="0.37"/><ellipse cx="807.2" cy="639.1" rx="0.6" ry="1.6" opacity="0.31"/><ellipse cx="852.4" cy="643.6" rx="0.8" ry="1.6" opacity="0.36"/><ellipse cx="877.8" cy="620.8" rx="0.7" ry="1.4" opacity="0.19"/><ellipse cx="846.6" cy="631.8" rx="0.9" ry="2.6" opacity="0.20"/><ellipse cx="794.0" cy="614.3" rx="0.9" ry="2.2" opacity="0.25"/><ellipse cx="814.6" cy="599.7" rx="0.6" ry="1.6" opacity="0.21"/><ellipse cx="808.9" cy="621.1" rx="1.0" ry="1.2" opacity="0.29"/><ellipse cx="854.9" cy="621.6" rx="0.9" ry="1.0" opacity="0.39"/><ellipse cx="793.9" cy="631.2" rx="0.9" ry="2.3" opacity="0.17"/><ellipse cx="844.7" cy="620.3" rx="1.0" ry="2.5" opacity="0.25"/><ellipse cx="834.6" cy="627.3" rx="0.9" ry="1.5" opacity="0.39"/><ellipse cx="874.6" cy="644.1" rx="0.9" ry="2.0" opacity="0.23"/><ellipse cx="808.0" cy="606.9" rx="0.7" ry="1.1" opacity="0.38"/><ellipse cx="824.3" cy="609.0" rx="0.6" ry="1.7" opacity="0.23"/><ellipse cx="833.1" cy="600.5" rx="0.8" ry="1.7" opacity="0.24"/><ellipse cx="837.0" cy="622.5" rx="1.0" ry="2.5" opacity="0.24"/><ellipse cx="801.1" cy="592.4" rx="1.0" ry="1.8" opacity="0.20"/><ellipse cx="842.8" cy="608.6" rx="0.7" ry="1.1" opacity="0.40"/><ellipse cx="843.5" cy="639.2" rx="0.6" ry="1.8" opacity="0.35"/><ellipse cx="814.3" cy="610.4" rx="0.8" ry="2.5" opacity="0.30"/><ellipse cx="826.1" cy="617.5" rx="0.9" ry="1.1" opacity="0.32"/><ellipse cx="843.4" cy="611.7" rx="0.7" ry="1.0" opacity="0.17"/><ellipse cx="806.6" cy="617.2" rx="0.9" ry="1.3" opacity="0.27"/><ellipse cx="796.8" cy="591.2" rx="1.0" ry="1.9" opacity="0.23"/><ellipse cx="792.4" cy="604.4" rx="0.9" ry="2.5" opacity="0.23"/><ellipse cx="793.7" cy="600.5" rx="0.8" ry="2.5" opacity="0.29"/><ellipse cx="850.8" cy="639.4" rx="0.7" ry="2.4" opacity="0.35"/><ellipse cx="832.4" cy="630.9" rx="0.8" ry="2.0" opacity="0.21"/><ellipse cx="865.3" cy="623.2" rx="0.7" ry="2.3" opacity="0.24"/><ellipse cx="868.2" cy="603.7" rx="0.8" ry="1.2" opacity="0.33"/><ellipse cx="821.0" cy="592.8" rx="0.8" ry="1.5" opacity="0.34"/><ellipse cx="860.2" cy="632.8" rx="0.7" ry="1.2" opacity="0.24"/><ellipse cx="861.0" cy="628.9" rx="0.7" ry="1.0" opacity="0.26"/><ellipse cx="833.2" cy="646.4" rx="0.8" ry="1.3" opacity="0.18"/><ellipse cx="808.9" cy="612.2" rx="0.8" ry="1.3" opacity="0.17"/><ellipse cx="801.9" cy="616.7" rx="0.8" ry="2.1" opacity="0.29"/><ellipse cx="826.2" cy="603.7" rx="0.7" ry="2.4" opacity="0.16"/><ellipse cx="835.1" cy="639.6" rx="0.8" ry="2.5" opacity="0.31"/><ellipse cx="834.9" cy="610.1" rx="0.8" ry="2.2" opacity="0.21"/><ellipse cx="837.1" cy="592.5" rx="0.7" ry="1.9" opacity="0.19"/><ellipse cx="795.5" cy="644.3" rx="1.0" ry="1.8" opacity="0.38"/><ellipse cx="811.7" cy="599.5" rx="1.0" ry="2.5" opacity="0.26"/><ellipse cx="789.4" cy="613.1" rx="0.6" ry="2.0" opacity="0.36"/><ellipse cx="806.2" cy="626.8" rx="0.9" ry="1.3" opacity="0.22"/><ellipse cx="843.4" cy="628.5" rx="0.6" ry="2.3" opacity="0.23"/><ellipse cx="843.8" cy="599.9" rx="0.6" ry="1.2" opacity="0.22"/><ellipse cx="795.7" cy="635.5" rx="0.9" ry="2.0" opacity="0.23"/><ellipse cx="799.7" cy="612.0" rx="0.6" ry="1.8" opacity="0.21"/><ellipse cx="810.7" cy="613.4" rx="0.6" ry="2.4" opacity="0.22"/><ellipse cx="868.4" cy="590.6" rx="1.0" ry="2.3" opacity="0.28"/><ellipse cx="795.2" cy="643.1" rx="0.8" ry="1.0" opacity="0.19"/><ellipse cx="802.9" cy="639.8" rx="0.6" ry="1.6" opacity="0.18"/><ellipse cx="885.1" cy="603.7" rx="0.7" ry="1.7" opacity="0.19"/><ellipse cx="813.3" cy="643.4" rx="0.8" ry="1.7" opacity="0.34"/><ellipse cx="806.5" cy="610.7" rx="0.7" ry="1.2" opacity="0.22"/><ellipse cx="831.5" cy="611.3" rx="0.9" ry="1.4" opacity="0.17"/><ellipse cx="878.3" cy="608.3" rx="0.8" ry="2.5" opacity="0.20"/><ellipse cx="830.8" cy="605.2" rx="1.0" ry="2.5" opacity="0.21"/><ellipse cx="844.5" cy="593.0" rx="0.8" ry="1.9" opacity="0.18"/><ellipse cx="788.6" cy="633.1" rx="0.9" ry="2.3" opacity="0.27"/><ellipse cx="853.3" cy="617.8" rx="0.8" ry="1.2" opacity="0.28"/><ellipse cx="828.3" cy="592.7" rx="0.7" ry="1.1" opacity="0.29"/><ellipse cx="854.5" cy="604.2" rx="0.8" ry="1.8" opacity="0.21"/><ellipse cx="856.5" cy="630.6" rx="0.9" ry="1.8" opacity="0.30"/><ellipse cx="857.3" cy="591.5" rx="0.7" ry="2.3" opacity="0.24"/><ellipse cx="853.0" cy="640.0" rx="0.6" ry="1.2" opacity="0.27"/><ellipse cx="846.7" cy="642.3" rx="0.8" ry="1.4" opacity="0.34"/><ellipse cx="848.6" cy="625.9" rx="0.9" ry="2.4" opacity="0.23"/><ellipse cx="841.4" cy="606.0" rx="0.7" ry="1.2" opacity="0.22"/><ellipse cx="835.6" cy="606.2" rx="0.6" ry="2.2" opacity="0.39"/><ellipse cx="882.1" cy="614.8" rx="0.9" ry="2.2" opacity="0.34"/><ellipse cx="880.5" cy="604.1" rx="0.8" ry="1.1" opacity="0.24"/><ellipse cx="831.8" cy="639.0" rx="0.8" ry="1.8" opacity="0.34"/><ellipse cx="851.9" cy="619.0" rx="0.8" ry="2.1" opacity="0.38"/><ellipse cx="842.0" cy="638.1" rx="0.8" ry="2.1" opacity="0.28"/><ellipse cx="869.4" cy="625.6" rx="0.8" ry="1.7" opacity="0.34"/><ellipse cx="822.7" cy="612.4" rx="1.0" ry="2.2" opacity="0.39"/><ellipse cx="815.2" cy="612.0" rx="0.6" ry="2.1" opacity="0.34"/><ellipse cx="873.7" cy="635.5" rx="0.6" ry="2.1" opacity="0.22"/><ellipse cx="836.2" cy="618.0" rx="0.6" ry="1.3" opacity="0.20"/><ellipse cx="867.9" cy="602.9" rx="0.8" ry="1.1" opacity="0.17"/><ellipse cx="871.0" cy="648.2" rx="0.9" ry="1.8" opacity="0.18"/><ellipse cx="853.2" cy="637.0" rx="0.7" ry="1.1" opacity="0.28"/><ellipse cx="844.3" cy="641.8" rx="0.7" ry="2.5" opacity="0.33"/><ellipse cx="805.4" cy="641.9" rx="1.0" ry="2.3" opacity="0.20"/><ellipse cx="873.6" cy="603.8" rx="0.8" ry="1.5" opacity="0.20"/><ellipse cx="822.4" cy="617.0" rx="0.9" ry="1.9" opacity="0.24"/><ellipse cx="831.0" cy="613.9" rx="0.7" ry="1.5" opacity="0.21"/><ellipse cx="856.2" cy="607.6" rx="0.9" ry="2.0" opacity="0.31"/><ellipse cx="868.5" cy="597.8" rx="0.8" ry="1.8" opacity="0.34"/><ellipse cx="804.6" cy="621.8" rx="0.6" ry="1.8" opacity="0.31"/><ellipse cx="834.0" cy="602.8" rx="0.6" ry="1.8" opacity="0.34"/><ellipse cx="792.5" cy="596.6" rx="0.8" ry="2.0" opacity="0.29"/><ellipse cx="828.0" cy="591.3" rx="0.7" ry="2.4" opacity="0.25"/><ellipse cx="840.4" cy="649.2" rx="0.9" ry="1.9" opacity="0.26"/><ellipse cx="827.9" cy="599.4" rx="1.0" ry="2.0" opacity="0.24"/><ellipse cx="803.0" cy="614.0" rx="0.6" ry="1.9" opacity="0.35"/><ellipse cx="875.5" cy="609.9" rx="0.9" ry="2.6" opacity="0.33"/><ellipse cx="826.8" cy="601.0" rx="0.9" ry="2.0" opacity="0.34"/></g>
<g fill="#fff"><ellipse cx="801.6" cy="648.5" rx="1.1" ry="1.6" opacity="0.58"/><ellipse cx="796.6" cy="635.9" rx="0.8" ry="1.7" opacity="0.53"/><ellipse cx="794.6" cy="633.7" rx="0.7" ry="1.6" opacity="0.61"/><ellipse cx="796.6" cy="635.4" rx="1.0" ry="1.9" opacity="0.42"/><ellipse cx="800.2" cy="637.7" rx="1.0" ry="2.1" opacity="0.69"/><ellipse cx="796.0" cy="642.8" rx="0.8" ry="2.1" opacity="0.60"/><ellipse cx="795.5" cy="622.6" rx="0.9" ry="2.2" opacity="0.58"/><ellipse cx="796.9" cy="639.3" rx="0.8" ry="1.7" opacity="0.50"/><ellipse cx="800.6" cy="625.9" rx="0.7" ry="1.6" opacity="0.41"/><ellipse cx="795.2" cy="637.2" rx="1.0" ry="1.8" opacity="0.51"/></g>
</g>
<g filter="url(#b05G)"><g fill="#fff"><ellipse cx="778.2" cy="632.4" rx="0.5" ry="3.0" opacity="0.10"/><ellipse cx="778.1" cy="550.1" rx="0.7" ry="1.7" opacity="0.16"/><ellipse cx="778.3" cy="624.3" rx="0.6" ry="2.8" opacity="0.20"/><ellipse cx="775.9" cy="596.9" rx="0.7" ry="2.6" opacity="0.13"/><ellipse cx="776.6" cy="644.8" rx="0.5" ry="2.6" opacity="0.18"/><ellipse cx="776.0" cy="576.0" rx="0.6" ry="2.3" opacity="0.12"/><ellipse cx="779.0" cy="641.7" rx="0.6" ry="2.8" opacity="0.09"/><ellipse cx="775.8" cy="613.2" rx="0.7" ry="2.7" opacity="0.20"/><ellipse cx="778.8" cy="569.3" rx="0.6" ry="2.9" opacity="0.09"/><ellipse cx="777.4" cy="557.0" rx="0.5" ry="2.2" opacity="0.16"/><ellipse cx="779.3" cy="554.4" rx="0.6" ry="3.0" opacity="0.17"/><ellipse cx="777.5" cy="566.7" rx="0.6" ry="1.9" opacity="0.16"/><ellipse cx="778.0" cy="583.0" rx="0.7" ry="2.1" opacity="0.14"/><ellipse cx="778.7" cy="567.6" rx="0.5" ry="2.4" opacity="0.13"/><ellipse cx="778.9" cy="567.4" rx="0.6" ry="1.6" opacity="0.13"/><ellipse cx="776.7" cy="589.4" rx="0.7" ry="1.6" opacity="0.20"/></g>
</g>
</g></g>
<rect x="770.9" y="437.0" width="214.4" height="213.2" fill="none" stroke="#00002c" stroke-width="1"/>
<text class="ss" x="768.0" y="653.7" font-size="13.5" fill="#111" text-anchor="end">0</text>
<text class="ss" x="768.0" y="601.62" font-size="13.5" fill="#111" text-anchor="end">20</text>
<text class="ss" x="768.0" y="548.24" font-size="13.5" fill="#111" text-anchor="end">40</text>
<text class="ss" x="768.0" y="494.86000000000007" font-size="13.5" fill="#111" text-anchor="end">60</text>
<text class="ss" x="768.0" y="441.4800000000001" font-size="13.5" fill="#111" text-anchor="end">80</text>
<text class="ss" x="770.6" y="665.3" font-size="13.5" fill="#111" text-anchor="middle">0</text>
<text class="ss" x="827.8000000000001" y="665.3" font-size="13.5" fill="#111" text-anchor="middle">2</text>
<text class="ss" x="885.0" y="665.3" font-size="13.5" fill="#111" text-anchor="middle">4</text>
<text class="ss" x="942.2" y="665.3" font-size="13.5" fill="#111" text-anchor="middle">6</text>
<text x="846.5" y="687" font-size="19" fill="#111"><tspan class="ss">|<tspan font-style="italic">Q</tspan>| </tspan><tspan class="sf" font-size="19.5">(Å</tspan><tspan class="sf" font-size="12" dy="-7">-1</tspan><tspan class="sf" font-size="19.5" dy="7">)</tspan></text>
<text class="ss" transform="translate(750.3,543) rotate(-90)" text-anchor="middle" font-size="19" fill="#111"><tspan font-style="italic">E</tspan> (meV)</text>
<text class="ss" x="880.6" y="459.5" font-size="17.5" fill="#e4ebff" text-anchor="middle">SpinW calculation</text>
<text class="ss" transform="translate(729,422.2) scale(1.06,1)" font-size="21.7" fill="#111">(g)</text>
<text class="ss" x="800" y="420.5" font-size="16.2" fill="#111"><tspan font-style="italic">SJ</tspan><tspan font-size="9" dy="4.5">3</tspan><tspan dy="-4.5"> = 3.6,  </tspan><tspan font-style="italic" dx="6">SJ</tspan><tspan font-size="9.5" dy="3.5">⊥</tspan><tspan dy="-3.5"> = 63.9 meV</tspan></text>
</g>
</svg>
</body></html>
